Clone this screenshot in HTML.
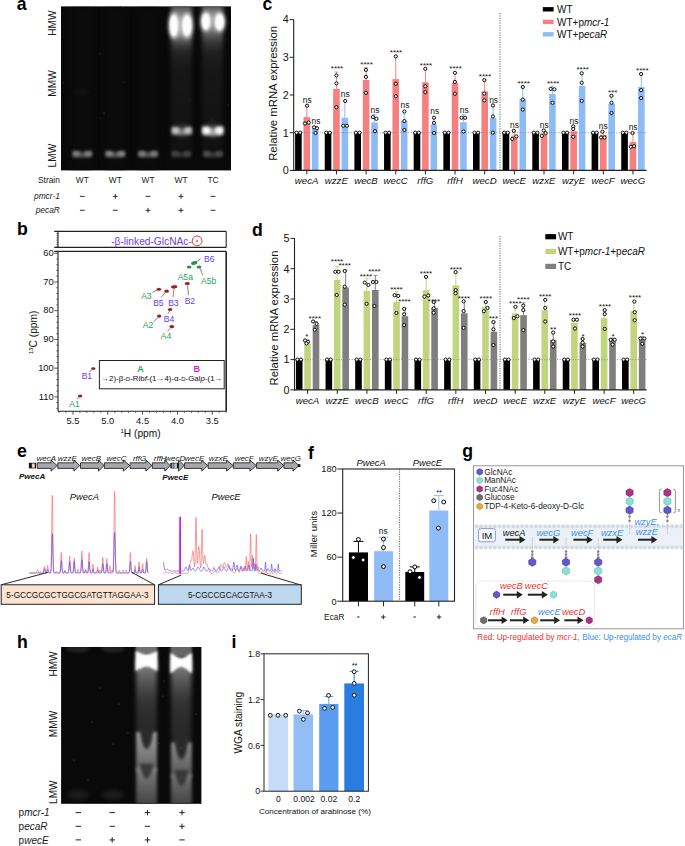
<!DOCTYPE html><html><head><meta charset="utf-8"><style>html,body{margin:0;padding:0;background:#fff;overflow:hidden}svg{display:block}text{font-family:"Liberation Sans",sans-serif}</style></head><body>
<svg width="685" height="846" viewBox="0 0 685 846">
<defs><filter id="b08" x="-50%" y="-50%" width="200%" height="200%" color-interpolation-filters="sRGB"><feGaussianBlur stdDeviation="0.8"/></filter><filter id="b12" x="-50%" y="-50%" width="200%" height="200%" color-interpolation-filters="sRGB"><feGaussianBlur stdDeviation="1.2"/></filter><filter id="b16" x="-50%" y="-50%" width="200%" height="200%" color-interpolation-filters="sRGB"><feGaussianBlur stdDeviation="1.6"/></filter><filter id="b22" x="-50%" y="-50%" width="200%" height="200%" color-interpolation-filters="sRGB"><feGaussianBlur stdDeviation="2.2"/></filter><filter id="b30" x="-50%" y="-50%" width="200%" height="200%" color-interpolation-filters="sRGB"><feGaussianBlur stdDeviation="3"/></filter></defs>
<rect width="685" height="846" fill="#fff"/>
<text x="16.8" y="9.6" font-size="17.7" font-weight="bold">a</text>
<text x="262.6" y="9.9" font-size="17.7" font-weight="bold">c</text>
<text x="17" y="235.2" font-size="17.7" font-weight="bold">b</text>
<text x="252" y="236" font-size="17.7" font-weight="bold">d</text>
<text x="16.9" y="456.7" font-size="17.7" font-weight="bold">e</text>
<text x="307.9" y="458.6" font-size="17.7" font-weight="bold">f</text>
<text x="462.3" y="457.2" font-size="17.7" font-weight="bold">g</text>
<text x="16.9" y="647.9" font-size="17.7" font-weight="bold">h</text>
<text x="231.6" y="647.9" font-size="17.7" font-weight="bold">i</text>
<clipPath id="clipA"><rect x="61" y="6.4" width="170" height="164.0"/></clipPath>
<rect x="61" y="6.4" width="170" height="164" fill="#090909"/>
<g clip-path="url(#clipA)">
<rect x="72" y="6.4" width="20" height="164" fill="#0b0b0b" filter="url(#b30)"/>
<rect x="105" y="6.4" width="20" height="164" fill="#0b0b0b" filter="url(#b30)"/>
<rect x="138" y="6.4" width="20" height="164" fill="#0b0b0b" filter="url(#b30)"/>
<linearGradient id="g1710_40" x1="0" y1="0" x2="0" y2="1"><stop offset="0" stop-color="#404040"/><stop offset="0.04" stop-color="#6a6a6a"/><stop offset="0.1" stop-color="#9a9a9a"/><stop offset="0.21" stop-color="#949494"/><stop offset="0.25" stop-color="#5a5a5a"/><stop offset="0.29" stop-color="#363636"/><stop offset="0.34" stop-color="#222"/><stop offset="0.45" stop-color="#171717"/><stop offset="1" stop-color="#121212"/></linearGradient>
<rect x="171" y="4" width="21" height="146" fill="url(#g1710_40)" filter="url(#b22)"/>
<linearGradient id="g2020_40" x1="0" y1="0" x2="0" y2="1"><stop offset="0" stop-color="#454545"/><stop offset="0.04" stop-color="#707070"/><stop offset="0.08" stop-color="#949494"/><stop offset="0.16" stop-color="#8a8a8a"/><stop offset="0.21" stop-color="#5a5a5a"/><stop offset="0.27" stop-color="#333"/><stop offset="0.33" stop-color="#202020"/><stop offset="0.45" stop-color="#171717"/><stop offset="1" stop-color="#121212"/></linearGradient>
<rect x="202" y="4" width="21" height="146" fill="url(#g2020_40)" filter="url(#b22)"/>
<ellipse cx="173.8" cy="25.5" rx="4.8" ry="12.5" fill="#fff" filter="url(#b22)"/>
<ellipse cx="173.8" cy="25.5" rx="3.6" ry="10" fill="#fff" filter="url(#b12)"/>
<ellipse cx="187" cy="25.5" rx="5.2" ry="12" fill="#fff" filter="url(#b22)"/>
<ellipse cx="187" cy="25.5" rx="3.9" ry="9.6" fill="#fff" filter="url(#b12)"/>
<ellipse cx="205.9" cy="21.5" rx="4.8" ry="9.5" fill="#fff" filter="url(#b22)"/>
<ellipse cx="205.9" cy="21.5" rx="3.6" ry="7.6" fill="#fff" filter="url(#b12)"/>
<ellipse cx="219.6" cy="22" rx="5.2" ry="9.5" fill="#fff" filter="url(#b22)"/>
<ellipse cx="219.6" cy="22" rx="3.9" ry="7.6" fill="#fff" filter="url(#b12)"/>
<ellipse cx="181.8" cy="130.5" rx="11" ry="6" fill="#3a3a3a" filter="url(#b22)"/>
<ellipse cx="212.8" cy="130.5" rx="11.5" ry="6.5" fill="#4a4a4a" filter="url(#b22)"/>
<path d="M171.8,126.5 Q176.8,126.5 181.8,129.3 Q186.8,126.5 191.8,126.5 L191.8,134.5 Q181.8,135.5 171.8,134.5 Z" fill="#808080" filter="url(#b16)"/>
<ellipse cx="175.8" cy="130.5" rx="3.5" ry="2.8" fill="#c8c8c8" filter="url(#b16)"/>
<ellipse cx="187.8" cy="130.5" rx="3.5" ry="2.8" fill="#c8c8c8" filter="url(#b16)"/>
<path d="M202.3,126 Q207.55,126 212.8,128.8 Q218.05,126 223.3,126 L223.3,135 Q212.8,136 202.3,135 Z" fill="#a8a8a8" filter="url(#b16)"/>
<ellipse cx="206.5" cy="130.5" rx="3.67" ry="3.15" fill="#ffffff" filter="url(#b16)"/>
<ellipse cx="219.1" cy="130.5" rx="3.67" ry="3.15" fill="#ffffff" filter="url(#b16)"/>
<path d="M72.5,150.6 Q77.4,150.6 82.3,152.2 Q87.2,150.6 92.1,150.6 L92.1,157 Q82.3,158 72.5,157 Z" fill="#555" filter="url(#b16)"/>
<ellipse cx="76.42" cy="153.8" rx="3.43" ry="2.24" fill="#858585" filter="url(#b16)"/>
<ellipse cx="88.18" cy="153.8" rx="3.43" ry="2.24" fill="#858585" filter="url(#b16)"/>
<path d="M105.5,150.6 Q110.4,150.6 115.3,152.2 Q120.2,150.6 125.1,150.6 L125.1,157 Q115.3,158 105.5,157 Z" fill="#585858" filter="url(#b16)"/>
<ellipse cx="109.42" cy="153.8" rx="3.43" ry="2.24" fill="#8a8a8a" filter="url(#b16)"/>
<ellipse cx="121.18" cy="153.8" rx="3.43" ry="2.24" fill="#8a8a8a" filter="url(#b16)"/>
<path d="M138.2,150.6 Q143.1,150.6 148,152.2 Q152.9,150.6 157.8,150.6 L157.8,157 Q148,158 138.2,157 Z" fill="#555" filter="url(#b16)"/>
<ellipse cx="142.12" cy="153.8" rx="3.43" ry="2.24" fill="#828282" filter="url(#b16)"/>
<ellipse cx="153.88" cy="153.8" rx="3.43" ry="2.24" fill="#828282" filter="url(#b16)"/>
<path d="M171.5,150.6 Q176.4,150.6 181.3,152.2 Q186.2,150.6 191.1,150.6 L191.1,157 Q181.3,158 171.5,157 Z" fill="#333" filter="url(#b16)"/>
<ellipse cx="175.42" cy="153.8" rx="3.43" ry="2.24" fill="#444" filter="url(#b16)"/>
<ellipse cx="187.18" cy="153.8" rx="3.43" ry="2.24" fill="#444" filter="url(#b16)"/>
<path d="M203.2,150.6 Q208.1,150.6 213,152.2 Q217.9,150.6 222.8,150.6 L222.8,157 Q213,158 203.2,157 Z" fill="#3a3a3a" filter="url(#b16)"/>
<ellipse cx="207.12" cy="153.8" rx="3.43" ry="2.24" fill="#4e4e4e" filter="url(#b16)"/>
<ellipse cx="218.88" cy="153.8" rx="3.43" ry="2.24" fill="#4e4e4e" filter="url(#b16)"/>
<ellipse cx="82" cy="92" rx="8" ry="3" fill="#141414" filter="url(#b22)"/>
<circle cx="63.5" cy="83" r="0.6" fill="#444"/>
<circle cx="123" cy="6.8" r="0.6" fill="#666"/>
<circle cx="100" cy="53.6" r="0.6" fill="#333"/>
<circle cx="124" cy="82" r="0.6" fill="#333"/>
<circle cx="100" cy="118" r="0.6" fill="#333"/>
<circle cx="104" cy="113" r="0.6" fill="#444"/>
<circle cx="228" cy="105" r="0.6" fill="#555"/>
<circle cx="212" cy="120" r="0.6" fill="#444"/>
<circle cx="183" cy="44" r="0.6" fill="#555"/>
<circle cx="190" cy="100" r="0.6" fill="#333"/>
</g>
<text transform="translate(55.9,23.2) rotate(-90)" text-anchor="middle" font-size="10.1" fill="#1a1a1a">HMW</text>
<text transform="translate(55.9,83.5) rotate(-90)" text-anchor="middle" font-size="10.1" fill="#1a1a1a">MMW</text>
<text transform="translate(55.9,155.6) rotate(-90)" text-anchor="middle" font-size="10.1" fill="#1a1a1a">LMW</text>
<text x="59.9" y="182.6" font-size="8.4" text-anchor="end" fill="#1a1a1a">Strain</text>
<text x="59.9" y="198.5" font-size="8.4" text-anchor="end" font-style="italic" fill="#1a1a1a">pmcr-1</text>
<text x="59.9" y="213.2" font-size="8.4" text-anchor="end" font-style="italic" fill="#1a1a1a">pecaR</text>
<text x="82.3" y="182.8" font-size="8.4" text-anchor="middle" fill="#1a1a1a">WT</text>
<text x="115.3" y="182.8" font-size="8.4" text-anchor="middle" fill="#1a1a1a">WT</text>
<text x="148" y="182.8" font-size="8.4" text-anchor="middle" fill="#1a1a1a">WT</text>
<text x="181" y="182.8" font-size="8.4" text-anchor="middle" fill="#1a1a1a">WT</text>
<text x="213" y="182.8" font-size="8.4" text-anchor="middle" fill="#1a1a1a">TC</text>
<line x1="79.9" y1="196.4" x2="84.7" y2="196.4" stroke="#1a1a1a" stroke-width="0.9"/>
<line x1="79.9" y1="210.3" x2="84.7" y2="210.3" stroke="#1a1a1a" stroke-width="0.9"/>
<line x1="112.9" y1="196.4" x2="117.7" y2="196.4" stroke="#1a1a1a" stroke-width="0.9"/>
<line x1="115.3" y1="194" x2="115.3" y2="198.8" stroke="#1a1a1a" stroke-width="0.9"/>
<line x1="112.9" y1="210.3" x2="117.7" y2="210.3" stroke="#1a1a1a" stroke-width="0.9"/>
<line x1="145.6" y1="196.4" x2="150.4" y2="196.4" stroke="#1a1a1a" stroke-width="0.9"/>
<line x1="145.6" y1="210.3" x2="150.4" y2="210.3" stroke="#1a1a1a" stroke-width="0.9"/>
<line x1="148" y1="207.9" x2="148" y2="212.7" stroke="#1a1a1a" stroke-width="0.9"/>
<line x1="178.6" y1="196.4" x2="183.4" y2="196.4" stroke="#1a1a1a" stroke-width="0.9"/>
<line x1="181" y1="194" x2="181" y2="198.8" stroke="#1a1a1a" stroke-width="0.9"/>
<line x1="178.6" y1="210.3" x2="183.4" y2="210.3" stroke="#1a1a1a" stroke-width="0.9"/>
<line x1="181" y1="207.9" x2="181" y2="212.7" stroke="#1a1a1a" stroke-width="0.9"/>
<line x1="210.6" y1="196.4" x2="215.4" y2="196.4" stroke="#1a1a1a" stroke-width="0.9"/>
<line x1="210.6" y1="210.3" x2="215.4" y2="210.3" stroke="#1a1a1a" stroke-width="0.9"/>
<rect x="295.1" y="132.7" width="6.6" height="37.7" fill="#000"/>
<line x1="306.8" y1="117.1" x2="306.8" y2="105.7" stroke="#f67f7f" stroke-width="1"/>
<line x1="305" y1="105.7" x2="308.6" y2="105.7" stroke="#f67f7f" stroke-width="0.9"/>
<rect x="303.5" y="117.1" width="6.6" height="53.3" fill="#f67f7f"/>
<line x1="315.2" y1="127.6" x2="315.2" y2="126.5" stroke="#8dbbf5" stroke-width="1"/>
<line x1="313.4" y1="126.5" x2="317" y2="126.5" stroke="#8dbbf5" stroke-width="0.9"/>
<rect x="311.9" y="127.6" width="6.6" height="42.8" fill="#8dbbf5"/>
<rect x="324.75" y="132.7" width="6.6" height="37.7" fill="#000"/>
<line x1="336.45" y1="88.9" x2="336.45" y2="72.1" stroke="#f67f7f" stroke-width="1"/>
<line x1="334.65" y1="72.1" x2="338.25" y2="72.1" stroke="#f67f7f" stroke-width="0.9"/>
<rect x="333.15" y="88.9" width="6.6" height="81.5" fill="#f67f7f"/>
<line x1="344.85" y1="117.7" x2="344.85" y2="101" stroke="#8dbbf5" stroke-width="1"/>
<line x1="343.05" y1="101" x2="346.65" y2="101" stroke="#8dbbf5" stroke-width="0.9"/>
<rect x="341.55" y="117.7" width="6.6" height="52.7" fill="#8dbbf5"/>
<rect x="354.4" y="132.7" width="6.6" height="37.7" fill="#000"/>
<line x1="366.1" y1="79.9" x2="366.1" y2="67.7" stroke="#f67f7f" stroke-width="1"/>
<line x1="364.3" y1="67.7" x2="367.9" y2="67.7" stroke="#f67f7f" stroke-width="0.9"/>
<rect x="362.8" y="79.9" width="6.6" height="90.5" fill="#f67f7f"/>
<line x1="374.5" y1="122.5" x2="374.5" y2="114.5" stroke="#8dbbf5" stroke-width="1"/>
<line x1="372.7" y1="114.5" x2="376.3" y2="114.5" stroke="#8dbbf5" stroke-width="0.9"/>
<rect x="371.2" y="122.5" width="6.6" height="47.9" fill="#8dbbf5"/>
<rect x="384.05" y="132.7" width="6.6" height="37.7" fill="#000"/>
<line x1="395.75" y1="79.1" x2="395.75" y2="56.4" stroke="#f67f7f" stroke-width="1"/>
<line x1="393.95" y1="56.4" x2="397.55" y2="56.4" stroke="#f67f7f" stroke-width="0.9"/>
<rect x="392.45" y="79.1" width="6.6" height="91.3" fill="#f67f7f"/>
<line x1="404.15" y1="121" x2="404.15" y2="111.5" stroke="#8dbbf5" stroke-width="1"/>
<line x1="402.35" y1="111.5" x2="405.95" y2="111.5" stroke="#8dbbf5" stroke-width="0.9"/>
<rect x="400.85" y="121" width="6.6" height="49.4" fill="#8dbbf5"/>
<rect x="413.7" y="132.7" width="6.6" height="37.7" fill="#000"/>
<line x1="425.4" y1="82.3" x2="425.4" y2="68.8" stroke="#f67f7f" stroke-width="1"/>
<line x1="423.6" y1="68.8" x2="427.2" y2="68.8" stroke="#f67f7f" stroke-width="0.9"/>
<rect x="422.1" y="82.3" width="6.6" height="88.1" fill="#f67f7f"/>
<line x1="433.8" y1="124.4" x2="433.8" y2="117.7" stroke="#8dbbf5" stroke-width="1"/>
<line x1="432" y1="117.7" x2="435.6" y2="117.7" stroke="#8dbbf5" stroke-width="0.9"/>
<rect x="430.5" y="124.4" width="6.6" height="46" fill="#8dbbf5"/>
<rect x="443.35" y="132.7" width="6.6" height="37.7" fill="#000"/>
<line x1="455.05" y1="82.8" x2="455.05" y2="72.8" stroke="#f67f7f" stroke-width="1"/>
<line x1="453.25" y1="72.8" x2="456.85" y2="72.8" stroke="#f67f7f" stroke-width="0.9"/>
<rect x="451.75" y="82.8" width="6.6" height="87.6" fill="#f67f7f"/>
<line x1="463.45" y1="122.2" x2="463.45" y2="114.5" stroke="#8dbbf5" stroke-width="1"/>
<line x1="461.65" y1="114.5" x2="465.25" y2="114.5" stroke="#8dbbf5" stroke-width="0.9"/>
<rect x="460.15" y="122.2" width="6.6" height="48.2" fill="#8dbbf5"/>
<rect x="473" y="132.7" width="6.6" height="37.7" fill="#000"/>
<line x1="484.7" y1="91.4" x2="484.7" y2="80.1" stroke="#f67f7f" stroke-width="1"/>
<line x1="482.9" y1="80.1" x2="486.5" y2="80.1" stroke="#f67f7f" stroke-width="0.9"/>
<rect x="481.4" y="91.4" width="6.6" height="79" fill="#f67f7f"/>
<line x1="493.1" y1="118.1" x2="493.1" y2="105.4" stroke="#8dbbf5" stroke-width="1"/>
<line x1="491.3" y1="105.4" x2="494.9" y2="105.4" stroke="#8dbbf5" stroke-width="0.9"/>
<rect x="489.8" y="118.1" width="6.6" height="52.3" fill="#8dbbf5"/>
<rect x="502.65" y="132.7" width="6.6" height="37.7" fill="#000"/>
<line x1="514.35" y1="135.6" x2="514.35" y2="130.8" stroke="#f67f7f" stroke-width="1"/>
<line x1="512.55" y1="130.8" x2="516.15" y2="130.8" stroke="#f67f7f" stroke-width="0.9"/>
<rect x="511.05" y="135.6" width="6.6" height="34.8" fill="#f67f7f"/>
<line x1="522.75" y1="98.8" x2="522.75" y2="87" stroke="#8dbbf5" stroke-width="1"/>
<line x1="520.95" y1="87" x2="524.55" y2="87" stroke="#8dbbf5" stroke-width="0.9"/>
<rect x="519.45" y="98.8" width="6.6" height="71.6" fill="#8dbbf5"/>
<rect x="532.3" y="132.7" width="6.6" height="37.7" fill="#000"/>
<line x1="544" y1="133.4" x2="544" y2="130.5" stroke="#f67f7f" stroke-width="1"/>
<line x1="542.2" y1="130.5" x2="545.8" y2="130.5" stroke="#f67f7f" stroke-width="0.9"/>
<rect x="540.7" y="133.4" width="6.6" height="37" fill="#f67f7f"/>
<line x1="552.4" y1="94" x2="552.4" y2="86" stroke="#8dbbf5" stroke-width="1"/>
<line x1="550.6" y1="86" x2="554.2" y2="86" stroke="#8dbbf5" stroke-width="0.9"/>
<rect x="549.1" y="94" width="6.6" height="76.4" fill="#8dbbf5"/>
<rect x="561.95" y="132.7" width="6.6" height="37.7" fill="#000"/>
<line x1="573.65" y1="131.2" x2="573.65" y2="126.4" stroke="#f67f7f" stroke-width="1"/>
<line x1="571.85" y1="126.4" x2="575.45" y2="126.4" stroke="#f67f7f" stroke-width="0.9"/>
<rect x="570.35" y="131.2" width="6.6" height="39.2" fill="#f67f7f"/>
<line x1="582.05" y1="86" x2="582.05" y2="73.3" stroke="#8dbbf5" stroke-width="1"/>
<line x1="580.25" y1="73.3" x2="583.85" y2="73.3" stroke="#8dbbf5" stroke-width="0.9"/>
<rect x="578.75" y="86" width="6.6" height="84.4" fill="#8dbbf5"/>
<rect x="591.6" y="132.7" width="6.6" height="37.7" fill="#000"/>
<line x1="603.3" y1="134.9" x2="603.3" y2="131.7" stroke="#f67f7f" stroke-width="1"/>
<line x1="601.5" y1="131.7" x2="605.1" y2="131.7" stroke="#f67f7f" stroke-width="0.9"/>
<rect x="600" y="134.9" width="6.6" height="35.5" fill="#f67f7f"/>
<line x1="611.7" y1="103.8" x2="611.7" y2="95.8" stroke="#8dbbf5" stroke-width="1"/>
<line x1="609.9" y1="95.8" x2="613.5" y2="95.8" stroke="#8dbbf5" stroke-width="0.9"/>
<rect x="608.4" y="103.8" width="6.6" height="66.6" fill="#8dbbf5"/>
<rect x="621.25" y="132.7" width="6.6" height="37.7" fill="#000"/>
<line x1="632.95" y1="141.9" x2="632.95" y2="133" stroke="#f67f7f" stroke-width="1"/>
<line x1="631.15" y1="133" x2="634.75" y2="133" stroke="#f67f7f" stroke-width="0.9"/>
<rect x="629.65" y="141.9" width="6.6" height="28.5" fill="#f67f7f"/>
<line x1="641.35" y1="87" x2="641.35" y2="74" stroke="#8dbbf5" stroke-width="1"/>
<line x1="639.55" y1="74" x2="643.15" y2="74" stroke="#8dbbf5" stroke-width="0.9"/>
<rect x="638.05" y="87" width="6.6" height="83.4" fill="#8dbbf5"/>
<line x1="293.7" y1="132.7" x2="646.6" y2="132.7" stroke="#8a8a8a" stroke-width="0.9" stroke-dasharray="1,1.6"/>
<rect x="295.1" y="132.7" width="6.6" height="1.5" fill="#000"/>
<rect x="324.75" y="132.7" width="6.6" height="1.5" fill="#000"/>
<rect x="354.4" y="132.7" width="6.6" height="1.5" fill="#000"/>
<rect x="384.05" y="132.7" width="6.6" height="1.5" fill="#000"/>
<rect x="413.7" y="132.7" width="6.6" height="1.5" fill="#000"/>
<rect x="443.35" y="132.7" width="6.6" height="1.5" fill="#000"/>
<rect x="473" y="132.7" width="6.6" height="1.5" fill="#000"/>
<rect x="502.65" y="132.7" width="6.6" height="1.5" fill="#000"/>
<rect x="532.3" y="132.7" width="6.6" height="1.5" fill="#000"/>
<rect x="561.95" y="132.7" width="6.6" height="1.5" fill="#000"/>
<rect x="591.6" y="132.7" width="6.6" height="1.5" fill="#000"/>
<rect x="621.25" y="132.7" width="6.6" height="1.5" fill="#000"/>
<circle cx="296.6" cy="132.7" r="1.6" fill="#fff" stroke="#000" stroke-width="0.95"/>
<circle cx="300.2" cy="132.7" r="1.6" fill="#fff" stroke="#000" stroke-width="0.95"/>
<circle cx="307.1" cy="105.7" r="1.6" fill="#fff" stroke="#000" stroke-width="0.95"/>
<circle cx="305" cy="123.5" r="1.6" fill="#fff" stroke="#000" stroke-width="0.95"/>
<circle cx="308.7" cy="122.6" r="1.6" fill="#fff" stroke="#000" stroke-width="0.95"/>
<text x="307.2" y="103.2" font-size="8.4" text-anchor="middle" fill="#111">ns</text>
<circle cx="314.1" cy="127.3" r="1.6" fill="#fff" stroke="#000" stroke-width="0.95"/>
<circle cx="317" cy="128.3" r="1.6" fill="#fff" stroke="#000" stroke-width="0.95"/>
<circle cx="315.5" cy="133" r="1.6" fill="#fff" stroke="#000" stroke-width="0.95"/>
<text x="316" y="123.6" font-size="8.4" text-anchor="middle" fill="#111">ns</text>
<circle cx="326.25" cy="132.7" r="1.6" fill="#fff" stroke="#000" stroke-width="0.95"/>
<circle cx="329.85" cy="132.7" r="1.6" fill="#fff" stroke="#000" stroke-width="0.95"/>
<circle cx="336.4" cy="75.5" r="1.6" fill="#fff" stroke="#000" stroke-width="0.95"/>
<circle cx="336.4" cy="83.4" r="1.6" fill="#fff" stroke="#000" stroke-width="0.95"/>
<circle cx="336.4" cy="107.2" r="1.6" fill="#fff" stroke="#000" stroke-width="0.95"/>
<text x="337" y="70.9" font-size="8" text-anchor="middle" fill="#111">****</text>
<circle cx="345.2" cy="101" r="1.6" fill="#fff" stroke="#000" stroke-width="0.95"/>
<circle cx="343.3" cy="125.8" r="1.6" fill="#fff" stroke="#000" stroke-width="0.95"/>
<circle cx="346.9" cy="125.8" r="1.6" fill="#fff" stroke="#000" stroke-width="0.95"/>
<text x="345.2" y="97.3" font-size="8.4" text-anchor="middle" fill="#111">ns</text>
<circle cx="355.9" cy="132.7" r="1.6" fill="#fff" stroke="#000" stroke-width="0.95"/>
<circle cx="359.5" cy="132.7" r="1.6" fill="#fff" stroke="#000" stroke-width="0.95"/>
<circle cx="365.9" cy="69.9" r="1.6" fill="#fff" stroke="#000" stroke-width="0.95"/>
<circle cx="365.9" cy="76.9" r="1.6" fill="#fff" stroke="#000" stroke-width="0.95"/>
<circle cx="365.9" cy="92.8" r="1.6" fill="#fff" stroke="#000" stroke-width="0.95"/>
<text x="366.6" y="66.5" font-size="8" text-anchor="middle" fill="#111">****</text>
<circle cx="372.9" cy="117.1" r="1.6" fill="#fff" stroke="#000" stroke-width="0.95"/>
<circle cx="376.4" cy="118.8" r="1.6" fill="#fff" stroke="#000" stroke-width="0.95"/>
<circle cx="375" cy="131.2" r="1.6" fill="#fff" stroke="#000" stroke-width="0.95"/>
<text x="375" y="113.1" font-size="8.4" text-anchor="middle" fill="#111">ns</text>
<circle cx="385.55" cy="132.7" r="1.6" fill="#fff" stroke="#000" stroke-width="0.95"/>
<circle cx="389.15" cy="132.7" r="1.6" fill="#fff" stroke="#000" stroke-width="0.95"/>
<circle cx="395.8" cy="56.4" r="1.6" fill="#fff" stroke="#000" stroke-width="0.95"/>
<circle cx="395.8" cy="83.8" r="1.6" fill="#fff" stroke="#000" stroke-width="0.95"/>
<circle cx="395.8" cy="96.2" r="1.6" fill="#fff" stroke="#000" stroke-width="0.95"/>
<text x="396" y="54.9" font-size="8" text-anchor="middle" fill="#111">****</text>
<circle cx="404.4" cy="111.5" r="1.6" fill="#fff" stroke="#000" stroke-width="0.95"/>
<circle cx="404.4" cy="121" r="1.6" fill="#fff" stroke="#000" stroke-width="0.95"/>
<circle cx="404.4" cy="130" r="1.6" fill="#fff" stroke="#000" stroke-width="0.95"/>
<text x="405" y="108.3" font-size="8.4" text-anchor="middle" fill="#111">ns</text>
<circle cx="415.2" cy="132.7" r="1.6" fill="#fff" stroke="#000" stroke-width="0.95"/>
<circle cx="418.8" cy="132.7" r="1.6" fill="#fff" stroke="#000" stroke-width="0.95"/>
<circle cx="425.3" cy="68.8" r="1.6" fill="#fff" stroke="#000" stroke-width="0.95"/>
<circle cx="425.3" cy="86.3" r="1.6" fill="#fff" stroke="#000" stroke-width="0.95"/>
<circle cx="425.3" cy="92.1" r="1.6" fill="#fff" stroke="#000" stroke-width="0.95"/>
<text x="426" y="68" font-size="8" text-anchor="middle" fill="#111">****</text>
<circle cx="434" cy="117.7" r="1.6" fill="#fff" stroke="#000" stroke-width="0.95"/>
<circle cx="434" cy="122.9" r="1.6" fill="#fff" stroke="#000" stroke-width="0.95"/>
<circle cx="434" cy="133" r="1.6" fill="#fff" stroke="#000" stroke-width="0.95"/>
<text x="434.7" y="114.1" font-size="8.4" text-anchor="middle" fill="#111">ns</text>
<circle cx="444.85" cy="132.7" r="1.6" fill="#fff" stroke="#000" stroke-width="0.95"/>
<circle cx="448.45" cy="132.7" r="1.6" fill="#fff" stroke="#000" stroke-width="0.95"/>
<circle cx="454.9" cy="72.8" r="1.6" fill="#fff" stroke="#000" stroke-width="0.95"/>
<circle cx="454.9" cy="81.9" r="1.6" fill="#fff" stroke="#000" stroke-width="0.95"/>
<circle cx="454.9" cy="93.7" r="1.6" fill="#fff" stroke="#000" stroke-width="0.95"/>
<text x="455.6" y="70.6" font-size="8" text-anchor="middle" fill="#111">****</text>
<circle cx="461.5" cy="117.8" r="1.6" fill="#fff" stroke="#000" stroke-width="0.95"/>
<circle cx="465.1" cy="117.8" r="1.6" fill="#fff" stroke="#000" stroke-width="0.95"/>
<circle cx="463.5" cy="131.5" r="1.6" fill="#fff" stroke="#000" stroke-width="0.95"/>
<text x="464.2" y="113.1" font-size="8.4" text-anchor="middle" fill="#111">ns</text>
<circle cx="474.5" cy="132.7" r="1.6" fill="#fff" stroke="#000" stroke-width="0.95"/>
<circle cx="478.1" cy="132.7" r="1.6" fill="#fff" stroke="#000" stroke-width="0.95"/>
<circle cx="484.3" cy="80.1" r="1.6" fill="#fff" stroke="#000" stroke-width="0.95"/>
<circle cx="484.3" cy="93.6" r="1.6" fill="#fff" stroke="#000" stroke-width="0.95"/>
<circle cx="484.3" cy="100.3" r="1.6" fill="#fff" stroke="#000" stroke-width="0.95"/>
<text x="485" y="78.9" font-size="8" text-anchor="middle" fill="#111">****</text>
<circle cx="492.9" cy="105.4" r="1.6" fill="#fff" stroke="#000" stroke-width="0.95"/>
<circle cx="492.9" cy="116.4" r="1.6" fill="#fff" stroke="#000" stroke-width="0.95"/>
<circle cx="492.9" cy="132.7" r="1.6" fill="#fff" stroke="#000" stroke-width="0.95"/>
<text x="493.6" y="102.5" font-size="8.4" text-anchor="middle" fill="#111">ns</text>
<circle cx="504.15" cy="132.7" r="1.6" fill="#fff" stroke="#000" stroke-width="0.95"/>
<circle cx="507.75" cy="132.7" r="1.6" fill="#fff" stroke="#000" stroke-width="0.95"/>
<circle cx="513.8" cy="130.8" r="1.6" fill="#fff" stroke="#000" stroke-width="0.95"/>
<circle cx="516.4" cy="136.4" r="1.6" fill="#fff" stroke="#000" stroke-width="0.95"/>
<circle cx="512.3" cy="139" r="1.6" fill="#fff" stroke="#000" stroke-width="0.95"/>
<text x="514.5" y="127.7" font-size="8.4" text-anchor="middle" fill="#111">ns</text>
<circle cx="522.8" cy="87" r="1.6" fill="#fff" stroke="#000" stroke-width="0.95"/>
<circle cx="522.8" cy="99.6" r="1.6" fill="#fff" stroke="#000" stroke-width="0.95"/>
<circle cx="522.8" cy="109.6" r="1.6" fill="#fff" stroke="#000" stroke-width="0.95"/>
<text x="523.7" y="86.2" font-size="8" text-anchor="middle" fill="#111">****</text>
<circle cx="533.8" cy="132.7" r="1.6" fill="#fff" stroke="#000" stroke-width="0.95"/>
<circle cx="537.4" cy="132.7" r="1.6" fill="#fff" stroke="#000" stroke-width="0.95"/>
<circle cx="543.7" cy="130.5" r="1.6" fill="#fff" stroke="#000" stroke-width="0.95"/>
<circle cx="545.6" cy="133.1" r="1.6" fill="#fff" stroke="#000" stroke-width="0.95"/>
<circle cx="541.8" cy="135.9" r="1.6" fill="#fff" stroke="#000" stroke-width="0.95"/>
<text x="544.2" y="128" font-size="8.4" text-anchor="middle" fill="#111">ns</text>
<circle cx="550.7" cy="88.9" r="1.6" fill="#fff" stroke="#000" stroke-width="0.95"/>
<circle cx="554.4" cy="89.3" r="1.6" fill="#fff" stroke="#000" stroke-width="0.95"/>
<circle cx="552.5" cy="102.8" r="1.6" fill="#fff" stroke="#000" stroke-width="0.95"/>
<text x="553.2" y="86.2" font-size="8" text-anchor="middle" fill="#111">****</text>
<circle cx="563.45" cy="132.7" r="1.6" fill="#fff" stroke="#000" stroke-width="0.95"/>
<circle cx="567.05" cy="132.7" r="1.6" fill="#fff" stroke="#000" stroke-width="0.95"/>
<circle cx="573.2" cy="126.4" r="1.6" fill="#fff" stroke="#000" stroke-width="0.95"/>
<circle cx="573.2" cy="129" r="1.6" fill="#fff" stroke="#000" stroke-width="0.95"/>
<circle cx="573.2" cy="136.8" r="1.6" fill="#fff" stroke="#000" stroke-width="0.95"/>
<text x="574" y="124.4" font-size="8.4" text-anchor="middle" fill="#111">ns</text>
<circle cx="581.7" cy="73.3" r="1.6" fill="#fff" stroke="#000" stroke-width="0.95"/>
<circle cx="581.7" cy="82.8" r="1.6" fill="#fff" stroke="#000" stroke-width="0.95"/>
<circle cx="581.7" cy="100.9" r="1.6" fill="#fff" stroke="#000" stroke-width="0.95"/>
<text x="582.7" y="72.4" font-size="8" text-anchor="middle" fill="#111">****</text>
<circle cx="593.1" cy="132.7" r="1.6" fill="#fff" stroke="#000" stroke-width="0.95"/>
<circle cx="596.7" cy="132.7" r="1.6" fill="#fff" stroke="#000" stroke-width="0.95"/>
<circle cx="602.4" cy="131.7" r="1.6" fill="#fff" stroke="#000" stroke-width="0.95"/>
<circle cx="601" cy="137.5" r="1.6" fill="#fff" stroke="#000" stroke-width="0.95"/>
<circle cx="604.6" cy="137.5" r="1.6" fill="#fff" stroke="#000" stroke-width="0.95"/>
<text x="603.2" y="128.7" font-size="8.4" text-anchor="middle" fill="#111">ns</text>
<circle cx="611.5" cy="95.8" r="1.6" fill="#fff" stroke="#000" stroke-width="0.95"/>
<circle cx="611.5" cy="102.8" r="1.6" fill="#fff" stroke="#000" stroke-width="0.95"/>
<circle cx="611.5" cy="113" r="1.6" fill="#fff" stroke="#000" stroke-width="0.95"/>
<text x="612.7" y="95" font-size="8" text-anchor="middle" fill="#111">***</text>
<circle cx="622.75" cy="132.7" r="1.6" fill="#fff" stroke="#000" stroke-width="0.95"/>
<circle cx="626.35" cy="132.7" r="1.6" fill="#fff" stroke="#000" stroke-width="0.95"/>
<circle cx="632.5" cy="133" r="1.6" fill="#fff" stroke="#000" stroke-width="0.95"/>
<circle cx="630.8" cy="146.8" r="1.6" fill="#fff" stroke="#000" stroke-width="0.95"/>
<circle cx="634.1" cy="146.2" r="1.6" fill="#fff" stroke="#000" stroke-width="0.95"/>
<text x="633.1" y="129.7" font-size="8.4" text-anchor="middle" fill="#111">ns</text>
<circle cx="641.1" cy="74" r="1.6" fill="#fff" stroke="#000" stroke-width="0.95"/>
<circle cx="641.1" cy="90.1" r="1.6" fill="#fff" stroke="#000" stroke-width="0.95"/>
<circle cx="641.1" cy="98" r="1.6" fill="#fff" stroke="#000" stroke-width="0.95"/>
<text x="642.3" y="73.4" font-size="8" text-anchor="middle" fill="#111">****</text>
<line x1="500" y1="13" x2="500" y2="170.4" stroke="#555" stroke-width="0.9" stroke-dasharray="1.2,1.2"/>
<line x1="293.7" y1="19.2" x2="293.7" y2="170.9" stroke="#222" stroke-width="1.1"/>
<line x1="293.2" y1="170.4" x2="646.6" y2="170.4" stroke="#222" stroke-width="1.1"/>
<line x1="289.7" y1="170.4" x2="293.7" y2="170.4" stroke="#222" stroke-width="1"/>
<text x="288.7" y="174.2" font-size="10.8" text-anchor="end" fill="#111">0</text>
<line x1="289.7" y1="132.7" x2="293.7" y2="132.7" stroke="#222" stroke-width="1"/>
<text x="288.7" y="136.5" font-size="10.8" text-anchor="end" fill="#111">1</text>
<line x1="289.7" y1="95" x2="293.7" y2="95" stroke="#222" stroke-width="1"/>
<text x="288.7" y="98.8" font-size="10.8" text-anchor="end" fill="#111">2</text>
<line x1="289.7" y1="57.3" x2="293.7" y2="57.3" stroke="#222" stroke-width="1"/>
<text x="288.7" y="61.1" font-size="10.8" text-anchor="end" fill="#111">3</text>
<line x1="289.7" y1="19.6" x2="293.7" y2="19.6" stroke="#222" stroke-width="1"/>
<text x="288.7" y="23.4" font-size="10.8" text-anchor="end" fill="#111">4</text>
<line x1="306.8" y1="170.4" x2="306.8" y2="174.4" stroke="#222" stroke-width="1"/>
<text x="306.7" y="184.2" font-size="9.7" text-anchor="middle" font-style="italic" fill="#111">wecA</text>
<line x1="336.45" y1="170.4" x2="336.45" y2="174.4" stroke="#222" stroke-width="1"/>
<text x="336.35" y="184.2" font-size="9.7" text-anchor="middle" font-style="italic" fill="#111">wzzE</text>
<line x1="366.1" y1="170.4" x2="366.1" y2="174.4" stroke="#222" stroke-width="1"/>
<text x="366" y="184.2" font-size="9.7" text-anchor="middle" font-style="italic" fill="#111">wecB</text>
<line x1="395.75" y1="170.4" x2="395.75" y2="174.4" stroke="#222" stroke-width="1"/>
<text x="395.65" y="184.2" font-size="9.7" text-anchor="middle" font-style="italic" fill="#111">wecC</text>
<line x1="425.4" y1="170.4" x2="425.4" y2="174.4" stroke="#222" stroke-width="1"/>
<text x="425.3" y="184.2" font-size="9.7" text-anchor="middle" font-style="italic" fill="#111">rffG</text>
<line x1="455.05" y1="170.4" x2="455.05" y2="174.4" stroke="#222" stroke-width="1"/>
<text x="454.95" y="184.2" font-size="9.7" text-anchor="middle" font-style="italic" fill="#111">rffH</text>
<line x1="484.7" y1="170.4" x2="484.7" y2="174.4" stroke="#222" stroke-width="1"/>
<text x="484.6" y="184.2" font-size="9.7" text-anchor="middle" font-style="italic" fill="#111">wecD</text>
<line x1="514.35" y1="170.4" x2="514.35" y2="174.4" stroke="#222" stroke-width="1"/>
<text x="514.25" y="184.2" font-size="9.7" text-anchor="middle" font-style="italic" fill="#111">wecE</text>
<line x1="544" y1="170.4" x2="544" y2="174.4" stroke="#222" stroke-width="1"/>
<text x="543.9" y="184.2" font-size="9.7" text-anchor="middle" font-style="italic" fill="#111">wzxE</text>
<line x1="573.65" y1="170.4" x2="573.65" y2="174.4" stroke="#222" stroke-width="1"/>
<text x="573.55" y="184.2" font-size="9.7" text-anchor="middle" font-style="italic" fill="#111">wzyE</text>
<line x1="603.3" y1="170.4" x2="603.3" y2="174.4" stroke="#222" stroke-width="1"/>
<text x="603.2" y="184.2" font-size="9.7" text-anchor="middle" font-style="italic" fill="#111">wecF</text>
<line x1="632.95" y1="170.4" x2="632.95" y2="174.4" stroke="#222" stroke-width="1"/>
<text x="632.85" y="184.2" font-size="9.7" text-anchor="middle" font-style="italic" fill="#111">wecG</text>
<text transform="translate(277.2,93.4) rotate(-90)" text-anchor="middle" font-size="11.35" fill="#111">Relative mRNA expression</text>
<rect x="542.8" y="7.1" width="10.8" height="4.4" fill="#000"/>
<text x="557" y="13.3" font-size="10" fill="#111">WT</text>
<rect x="542.8" y="19.7" width="10.8" height="4.4" fill="#f67f7f"/>
<text x="557" y="25.9" font-size="10" fill="#111">WT+p<tspan font-style="italic">mcr-1</tspan></text>
<rect x="542.8" y="32.1" width="10.8" height="4.4" fill="#8dbbf5"/>
<text x="557" y="38.3" font-size="10" fill="#111">WT+p<tspan font-style="italic">ecaR</tspan></text>
<rect x="295.9" y="359.6" width="6.6" height="30.3" fill="#000"/>
<line x1="307.6" y1="343.4" x2="307.6" y2="339.5" stroke="#c1d57e" stroke-width="1"/>
<line x1="305.8" y1="339.5" x2="309.4" y2="339.5" stroke="#c1d57e" stroke-width="0.9"/>
<rect x="304.3" y="343.4" width="6.6" height="46.5" fill="#c1d57e"/>
<line x1="316" y1="325.1" x2="316" y2="321.5" stroke="#7f7f7f" stroke-width="1"/>
<line x1="314.2" y1="321.5" x2="317.8" y2="321.5" stroke="#7f7f7f" stroke-width="0.9"/>
<rect x="312.7" y="325.1" width="6.6" height="64.8" fill="#7f7f7f"/>
<rect x="325.55" y="359.6" width="6.6" height="30.3" fill="#000"/>
<line x1="337.25" y1="279.9" x2="337.25" y2="266.6" stroke="#c1d57e" stroke-width="1"/>
<line x1="335.45" y1="266.6" x2="339.05" y2="266.6" stroke="#c1d57e" stroke-width="0.9"/>
<rect x="333.95" y="279.9" width="6.6" height="110" fill="#c1d57e"/>
<line x1="345.65" y1="287.4" x2="345.65" y2="269.9" stroke="#7f7f7f" stroke-width="1"/>
<line x1="343.85" y1="269.9" x2="347.45" y2="269.9" stroke="#7f7f7f" stroke-width="0.9"/>
<rect x="342.35" y="287.4" width="6.6" height="102.5" fill="#7f7f7f"/>
<rect x="355.2" y="359.6" width="6.6" height="30.3" fill="#000"/>
<line x1="366.9" y1="290.7" x2="366.9" y2="278.4" stroke="#c1d57e" stroke-width="1"/>
<line x1="365.1" y1="278.4" x2="368.7" y2="278.4" stroke="#c1d57e" stroke-width="0.9"/>
<rect x="363.6" y="290.7" width="6.6" height="99.2" fill="#c1d57e"/>
<line x1="375.3" y1="289.9" x2="375.3" y2="275.5" stroke="#7f7f7f" stroke-width="1"/>
<line x1="373.5" y1="275.5" x2="377.1" y2="275.5" stroke="#7f7f7f" stroke-width="0.9"/>
<rect x="372" y="289.9" width="6.6" height="100" fill="#7f7f7f"/>
<rect x="384.85" y="359.6" width="6.6" height="30.3" fill="#000"/>
<line x1="396.55" y1="302" x2="396.55" y2="291.4" stroke="#c1d57e" stroke-width="1"/>
<line x1="394.75" y1="291.4" x2="398.35" y2="291.4" stroke="#c1d57e" stroke-width="0.9"/>
<rect x="393.25" y="302" width="6.6" height="87.9" fill="#c1d57e"/>
<line x1="404.95" y1="316.2" x2="404.95" y2="308.6" stroke="#7f7f7f" stroke-width="1"/>
<line x1="403.15" y1="308.6" x2="406.75" y2="308.6" stroke="#7f7f7f" stroke-width="0.9"/>
<rect x="401.65" y="316.2" width="6.6" height="73.7" fill="#7f7f7f"/>
<rect x="414.5" y="359.6" width="6.6" height="30.3" fill="#000"/>
<line x1="426.2" y1="290.1" x2="426.2" y2="276.9" stroke="#c1d57e" stroke-width="1"/>
<line x1="424.4" y1="276.9" x2="428" y2="276.9" stroke="#c1d57e" stroke-width="0.9"/>
<rect x="422.9" y="290.1" width="6.6" height="99.8" fill="#c1d57e"/>
<line x1="434.6" y1="307.9" x2="434.6" y2="302" stroke="#7f7f7f" stroke-width="1"/>
<line x1="432.8" y1="302" x2="436.4" y2="302" stroke="#7f7f7f" stroke-width="0.9"/>
<rect x="431.3" y="307.9" width="6.6" height="82" fill="#7f7f7f"/>
<rect x="444.15" y="359.6" width="6.6" height="30.3" fill="#000"/>
<line x1="455.85" y1="285.3" x2="455.85" y2="272.1" stroke="#c1d57e" stroke-width="1"/>
<line x1="454.05" y1="272.1" x2="457.65" y2="272.1" stroke="#c1d57e" stroke-width="0.9"/>
<rect x="452.55" y="285.3" width="6.6" height="104.6" fill="#c1d57e"/>
<line x1="464.25" y1="313.3" x2="464.25" y2="301.3" stroke="#7f7f7f" stroke-width="1"/>
<line x1="462.45" y1="301.3" x2="466.05" y2="301.3" stroke="#7f7f7f" stroke-width="0.9"/>
<rect x="460.95" y="313.3" width="6.6" height="76.6" fill="#7f7f7f"/>
<rect x="473.8" y="359.6" width="6.6" height="30.3" fill="#000"/>
<line x1="485.5" y1="306.9" x2="485.5" y2="302" stroke="#c1d57e" stroke-width="1"/>
<line x1="483.7" y1="302" x2="487.3" y2="302" stroke="#c1d57e" stroke-width="0.9"/>
<rect x="482.2" y="306.9" width="6.6" height="83" fill="#c1d57e"/>
<line x1="493.9" y1="331.7" x2="493.9" y2="322" stroke="#7f7f7f" stroke-width="1"/>
<line x1="492.1" y1="322" x2="495.7" y2="322" stroke="#7f7f7f" stroke-width="0.9"/>
<rect x="490.6" y="331.7" width="6.6" height="58.2" fill="#7f7f7f"/>
<rect x="503.45" y="359.6" width="6.6" height="30.3" fill="#000"/>
<line x1="515.15" y1="313.4" x2="515.15" y2="306.9" stroke="#c1d57e" stroke-width="1"/>
<line x1="513.35" y1="306.9" x2="516.95" y2="306.9" stroke="#c1d57e" stroke-width="0.9"/>
<rect x="511.85" y="313.4" width="6.6" height="76.5" fill="#c1d57e"/>
<line x1="523.55" y1="315.2" x2="523.55" y2="302.8" stroke="#7f7f7f" stroke-width="1"/>
<line x1="521.75" y1="302.8" x2="525.35" y2="302.8" stroke="#7f7f7f" stroke-width="0.9"/>
<rect x="520.25" y="315.2" width="6.6" height="74.7" fill="#7f7f7f"/>
<rect x="533.1" y="359.6" width="6.6" height="30.3" fill="#000"/>
<line x1="544.8" y1="310.1" x2="544.8" y2="299.9" stroke="#c1d57e" stroke-width="1"/>
<line x1="543" y1="299.9" x2="546.6" y2="299.9" stroke="#c1d57e" stroke-width="0.9"/>
<rect x="541.5" y="310.1" width="6.6" height="79.8" fill="#c1d57e"/>
<line x1="553.2" y1="339.8" x2="553.2" y2="332.6" stroke="#7f7f7f" stroke-width="1"/>
<line x1="551.4" y1="332.6" x2="555" y2="332.6" stroke="#7f7f7f" stroke-width="0.9"/>
<rect x="549.9" y="339.8" width="6.6" height="50.1" fill="#7f7f7f"/>
<rect x="562.75" y="359.6" width="6.6" height="30.3" fill="#000"/>
<line x1="574.45" y1="322.9" x2="574.45" y2="319.7" stroke="#c1d57e" stroke-width="1"/>
<line x1="572.65" y1="319.7" x2="576.25" y2="319.7" stroke="#c1d57e" stroke-width="0.9"/>
<rect x="571.15" y="322.9" width="6.6" height="67" fill="#c1d57e"/>
<line x1="582.85" y1="343" x2="582.85" y2="338.2" stroke="#7f7f7f" stroke-width="1"/>
<line x1="581.05" y1="338.2" x2="584.65" y2="338.2" stroke="#7f7f7f" stroke-width="0.9"/>
<rect x="579.55" y="343" width="6.6" height="46.9" fill="#7f7f7f"/>
<rect x="592.4" y="359.6" width="6.6" height="30.3" fill="#000"/>
<line x1="604.1" y1="318.1" x2="604.1" y2="310.1" stroke="#c1d57e" stroke-width="1"/>
<line x1="602.3" y1="310.1" x2="605.9" y2="310.1" stroke="#c1d57e" stroke-width="0.9"/>
<rect x="600.8" y="318.1" width="6.6" height="71.8" fill="#c1d57e"/>
<line x1="612.5" y1="339" x2="612.5" y2="338.2" stroke="#7f7f7f" stroke-width="1"/>
<line x1="610.7" y1="338.2" x2="614.3" y2="338.2" stroke="#7f7f7f" stroke-width="0.9"/>
<rect x="609.2" y="339" width="6.6" height="50.9" fill="#7f7f7f"/>
<rect x="622.05" y="359.6" width="6.6" height="30.3" fill="#000"/>
<line x1="633.75" y1="311.2" x2="633.75" y2="301.6" stroke="#c1d57e" stroke-width="1"/>
<line x1="631.95" y1="301.6" x2="635.55" y2="301.6" stroke="#c1d57e" stroke-width="0.9"/>
<rect x="630.45" y="311.2" width="6.6" height="78.7" fill="#c1d57e"/>
<line x1="642.15" y1="337.9" x2="642.15" y2="336.8" stroke="#7f7f7f" stroke-width="1"/>
<line x1="640.35" y1="336.8" x2="643.95" y2="336.8" stroke="#7f7f7f" stroke-width="0.9"/>
<rect x="638.85" y="337.9" width="6.6" height="52" fill="#7f7f7f"/>
<line x1="294.5" y1="359.6" x2="646.6" y2="359.6" stroke="#8a8a8a" stroke-width="0.9" stroke-dasharray="1,1.6"/>
<rect x="295.9" y="359.6" width="6.6" height="1.5" fill="#000"/>
<rect x="325.55" y="359.6" width="6.6" height="1.5" fill="#000"/>
<rect x="355.2" y="359.6" width="6.6" height="1.5" fill="#000"/>
<rect x="384.85" y="359.6" width="6.6" height="1.5" fill="#000"/>
<rect x="414.5" y="359.6" width="6.6" height="1.5" fill="#000"/>
<rect x="444.15" y="359.6" width="6.6" height="1.5" fill="#000"/>
<rect x="473.8" y="359.6" width="6.6" height="1.5" fill="#000"/>
<rect x="503.45" y="359.6" width="6.6" height="1.5" fill="#000"/>
<rect x="533.1" y="359.6" width="6.6" height="1.5" fill="#000"/>
<rect x="562.75" y="359.6" width="6.6" height="1.5" fill="#000"/>
<rect x="592.4" y="359.6" width="6.6" height="1.5" fill="#000"/>
<rect x="622.05" y="359.6" width="6.6" height="1.5" fill="#000"/>
<circle cx="297.4" cy="359.6" r="1.6" fill="#fff" stroke="#000" stroke-width="0.95"/>
<circle cx="301" cy="359.6" r="1.6" fill="#fff" stroke="#000" stroke-width="0.95"/>
<circle cx="305" cy="340.5" r="1.6" fill="#fff" stroke="#000" stroke-width="0.95"/>
<circle cx="308" cy="341.7" r="1.6" fill="#fff" stroke="#000" stroke-width="0.95"/>
<circle cx="306.4" cy="343.4" r="1.6" fill="#fff" stroke="#000" stroke-width="0.95"/>
<text x="306.8" y="338.8" font-size="8" text-anchor="middle" fill="#111">*</text>
<circle cx="313.1" cy="321.5" r="1.6" fill="#fff" stroke="#000" stroke-width="0.95"/>
<circle cx="316.6" cy="323.9" r="1.6" fill="#fff" stroke="#000" stroke-width="0.95"/>
<circle cx="314.8" cy="329.8" r="1.6" fill="#fff" stroke="#000" stroke-width="0.95"/>
<text x="314.8" y="320.5" font-size="8" text-anchor="middle" fill="#111">****</text>
<circle cx="327.05" cy="359.6" r="1.6" fill="#fff" stroke="#000" stroke-width="0.95"/>
<circle cx="330.65" cy="359.6" r="1.6" fill="#fff" stroke="#000" stroke-width="0.95"/>
<circle cx="335.3" cy="271.8" r="1.6" fill="#fff" stroke="#000" stroke-width="0.95"/>
<circle cx="338.6" cy="271.8" r="1.6" fill="#fff" stroke="#000" stroke-width="0.95"/>
<circle cx="336.7" cy="295" r="1.6" fill="#fff" stroke="#000" stroke-width="0.95"/>
<text x="337" y="263.6" font-size="8" text-anchor="middle" fill="#111">****</text>
<circle cx="344.7" cy="271" r="1.6" fill="#fff" stroke="#000" stroke-width="0.95"/>
<circle cx="344.7" cy="286.7" r="1.6" fill="#fff" stroke="#000" stroke-width="0.95"/>
<circle cx="344.7" cy="304.7" r="1.6" fill="#fff" stroke="#000" stroke-width="0.95"/>
<text x="344.7" y="268.4" font-size="8" text-anchor="middle" fill="#111">****</text>
<circle cx="356.7" cy="359.6" r="1.6" fill="#fff" stroke="#000" stroke-width="0.95"/>
<circle cx="360.3" cy="359.6" r="1.6" fill="#fff" stroke="#000" stroke-width="0.95"/>
<circle cx="364.7" cy="282.6" r="1.6" fill="#fff" stroke="#000" stroke-width="0.95"/>
<circle cx="368.4" cy="285" r="1.6" fill="#fff" stroke="#000" stroke-width="0.95"/>
<circle cx="366.6" cy="303.8" r="1.6" fill="#fff" stroke="#000" stroke-width="0.95"/>
<text x="365.9" y="278.6" font-size="8" text-anchor="middle" fill="#111">****</text>
<circle cx="372.9" cy="282" r="1.6" fill="#fff" stroke="#000" stroke-width="0.95"/>
<circle cx="376.4" cy="282" r="1.6" fill="#fff" stroke="#000" stroke-width="0.95"/>
<circle cx="374.4" cy="306" r="1.6" fill="#fff" stroke="#000" stroke-width="0.95"/>
<text x="374.4" y="273.5" font-size="8" text-anchor="middle" fill="#111">****</text>
<circle cx="386.35" cy="359.6" r="1.6" fill="#fff" stroke="#000" stroke-width="0.95"/>
<circle cx="389.95" cy="359.6" r="1.6" fill="#fff" stroke="#000" stroke-width="0.95"/>
<circle cx="394.6" cy="295.2" r="1.6" fill="#fff" stroke="#000" stroke-width="0.95"/>
<circle cx="398.2" cy="295.9" r="1.6" fill="#fff" stroke="#000" stroke-width="0.95"/>
<circle cx="396.4" cy="313" r="1.6" fill="#fff" stroke="#000" stroke-width="0.95"/>
<text x="396.4" y="292.4" font-size="8" text-anchor="middle" fill="#111">****</text>
<circle cx="404.1" cy="308.9" r="1.6" fill="#fff" stroke="#000" stroke-width="0.95"/>
<circle cx="404.1" cy="314.2" r="1.6" fill="#fff" stroke="#000" stroke-width="0.95"/>
<circle cx="404.1" cy="325.1" r="1.6" fill="#fff" stroke="#000" stroke-width="0.95"/>
<text x="404.5" y="304" font-size="8" text-anchor="middle" fill="#111">****</text>
<circle cx="416" cy="359.6" r="1.6" fill="#fff" stroke="#000" stroke-width="0.95"/>
<circle cx="419.6" cy="359.6" r="1.6" fill="#fff" stroke="#000" stroke-width="0.95"/>
<circle cx="426" cy="276.9" r="1.6" fill="#fff" stroke="#000" stroke-width="0.95"/>
<circle cx="424.5" cy="296.6" r="1.6" fill="#fff" stroke="#000" stroke-width="0.95"/>
<circle cx="428.2" cy="295.5" r="1.6" fill="#fff" stroke="#000" stroke-width="0.95"/>
<text x="426" y="276" font-size="8" text-anchor="middle" fill="#111">****</text>
<circle cx="433.7" cy="302" r="1.6" fill="#fff" stroke="#000" stroke-width="0.95"/>
<circle cx="433.7" cy="308.3" r="1.6" fill="#fff" stroke="#000" stroke-width="0.95"/>
<circle cx="433.7" cy="312.7" r="1.6" fill="#fff" stroke="#000" stroke-width="0.95"/>
<text x="434" y="303.8" font-size="8" text-anchor="middle" fill="#111">****</text>
<circle cx="445.65" cy="359.6" r="1.6" fill="#fff" stroke="#000" stroke-width="0.95"/>
<circle cx="449.25" cy="359.6" r="1.6" fill="#fff" stroke="#000" stroke-width="0.95"/>
<circle cx="455.6" cy="272.1" r="1.6" fill="#fff" stroke="#000" stroke-width="0.95"/>
<circle cx="455.6" cy="290.1" r="1.6" fill="#fff" stroke="#000" stroke-width="0.95"/>
<circle cx="455.6" cy="293.3" r="1.6" fill="#fff" stroke="#000" stroke-width="0.95"/>
<text x="455.9" y="271.6" font-size="8" text-anchor="middle" fill="#111">****</text>
<circle cx="463.6" cy="301.3" r="1.6" fill="#fff" stroke="#000" stroke-width="0.95"/>
<circle cx="463.6" cy="311.1" r="1.6" fill="#fff" stroke="#000" stroke-width="0.95"/>
<circle cx="463.6" cy="327.9" r="1.6" fill="#fff" stroke="#000" stroke-width="0.95"/>
<text x="463.9" y="300.8" font-size="8" text-anchor="middle" fill="#111">****</text>
<circle cx="475.3" cy="359.6" r="1.6" fill="#fff" stroke="#000" stroke-width="0.95"/>
<circle cx="478.9" cy="359.6" r="1.6" fill="#fff" stroke="#000" stroke-width="0.95"/>
<circle cx="485.8" cy="302" r="1.6" fill="#fff" stroke="#000" stroke-width="0.95"/>
<circle cx="487.5" cy="307.9" r="1.6" fill="#fff" stroke="#000" stroke-width="0.95"/>
<circle cx="483.9" cy="311.2" r="1.6" fill="#fff" stroke="#000" stroke-width="0.95"/>
<text x="485.8" y="300.8" font-size="8" text-anchor="middle" fill="#111">****</text>
<circle cx="493.4" cy="322" r="1.6" fill="#fff" stroke="#000" stroke-width="0.95"/>
<circle cx="493.4" cy="329.3" r="1.6" fill="#fff" stroke="#000" stroke-width="0.95"/>
<circle cx="493.4" cy="345" r="1.6" fill="#fff" stroke="#000" stroke-width="0.95"/>
<text x="493.4" y="321.3" font-size="8" text-anchor="middle" fill="#111">***</text>
<circle cx="504.95" cy="359.6" r="1.6" fill="#fff" stroke="#000" stroke-width="0.95"/>
<circle cx="508.55" cy="359.6" r="1.6" fill="#fff" stroke="#000" stroke-width="0.95"/>
<circle cx="515.5" cy="306.9" r="1.6" fill="#fff" stroke="#000" stroke-width="0.95"/>
<circle cx="513.8" cy="318.1" r="1.6" fill="#fff" stroke="#000" stroke-width="0.95"/>
<circle cx="517.4" cy="316.2" r="1.6" fill="#fff" stroke="#000" stroke-width="0.95"/>
<text x="515.3" y="305.9" font-size="8" text-anchor="middle" fill="#111">****</text>
<circle cx="523.3" cy="305.7" r="1.6" fill="#fff" stroke="#000" stroke-width="0.95"/>
<circle cx="523.3" cy="310.1" r="1.6" fill="#fff" stroke="#000" stroke-width="0.95"/>
<circle cx="523.3" cy="330.1" r="1.6" fill="#fff" stroke="#000" stroke-width="0.95"/>
<text x="523.3" y="301.6" font-size="8" text-anchor="middle" fill="#111">****</text>
<circle cx="534.6" cy="359.6" r="1.6" fill="#fff" stroke="#000" stroke-width="0.95"/>
<circle cx="538.2" cy="359.6" r="1.6" fill="#fff" stroke="#000" stroke-width="0.95"/>
<circle cx="545.2" cy="299.9" r="1.6" fill="#fff" stroke="#000" stroke-width="0.95"/>
<circle cx="545.2" cy="307.9" r="1.6" fill="#fff" stroke="#000" stroke-width="0.95"/>
<circle cx="545.2" cy="321.5" r="1.6" fill="#fff" stroke="#000" stroke-width="0.95"/>
<text x="545.2" y="298.6" font-size="8" text-anchor="middle" fill="#111">****</text>
<circle cx="553.2" cy="332.6" r="1.6" fill="#fff" stroke="#000" stroke-width="0.95"/>
<circle cx="553.2" cy="341.4" r="1.6" fill="#fff" stroke="#000" stroke-width="0.95"/>
<circle cx="553.2" cy="346.5" r="1.6" fill="#fff" stroke="#000" stroke-width="0.95"/>
<text x="553.2" y="331.6" font-size="8" text-anchor="middle" fill="#111">**</text>
<circle cx="564.25" cy="359.6" r="1.6" fill="#fff" stroke="#000" stroke-width="0.95"/>
<circle cx="567.85" cy="359.6" r="1.6" fill="#fff" stroke="#000" stroke-width="0.95"/>
<circle cx="573.4" cy="319.7" r="1.6" fill="#fff" stroke="#000" stroke-width="0.95"/>
<circle cx="576.9" cy="319.7" r="1.6" fill="#fff" stroke="#000" stroke-width="0.95"/>
<circle cx="575" cy="328.5" r="1.6" fill="#fff" stroke="#000" stroke-width="0.95"/>
<text x="575" y="318.3" font-size="8" text-anchor="middle" fill="#111">****</text>
<circle cx="582.6" cy="339" r="1.6" fill="#fff" stroke="#000" stroke-width="0.95"/>
<circle cx="582.6" cy="342.7" r="1.6" fill="#fff" stroke="#000" stroke-width="0.95"/>
<circle cx="582.6" cy="346.5" r="1.6" fill="#fff" stroke="#000" stroke-width="0.95"/>
<text x="583" y="338.5" font-size="8" text-anchor="middle" fill="#111">*</text>
<circle cx="593.9" cy="359.6" r="1.6" fill="#fff" stroke="#000" stroke-width="0.95"/>
<circle cx="597.5" cy="359.6" r="1.6" fill="#fff" stroke="#000" stroke-width="0.95"/>
<circle cx="604.7" cy="310.1" r="1.6" fill="#fff" stroke="#000" stroke-width="0.95"/>
<circle cx="604.7" cy="314.1" r="1.6" fill="#fff" stroke="#000" stroke-width="0.95"/>
<circle cx="604.7" cy="328.9" r="1.6" fill="#fff" stroke="#000" stroke-width="0.95"/>
<text x="605" y="309.2" font-size="8" text-anchor="middle" fill="#111">****</text>
<circle cx="610.7" cy="339.8" r="1.6" fill="#fff" stroke="#000" stroke-width="0.95"/>
<circle cx="614.7" cy="339.8" r="1.6" fill="#fff" stroke="#000" stroke-width="0.95"/>
<circle cx="612.6" cy="344.6" r="1.6" fill="#fff" stroke="#000" stroke-width="0.95"/>
<text x="613" y="338.5" font-size="8" text-anchor="middle" fill="#111">*</text>
<circle cx="623.55" cy="359.6" r="1.6" fill="#fff" stroke="#000" stroke-width="0.95"/>
<circle cx="627.15" cy="359.6" r="1.6" fill="#fff" stroke="#000" stroke-width="0.95"/>
<circle cx="634.4" cy="301.6" r="1.6" fill="#fff" stroke="#000" stroke-width="0.95"/>
<circle cx="634.7" cy="312.2" r="1.6" fill="#fff" stroke="#000" stroke-width="0.95"/>
<circle cx="634.7" cy="320.2" r="1.6" fill="#fff" stroke="#000" stroke-width="0.95"/>
<text x="635" y="300.3" font-size="8" text-anchor="middle" fill="#111">****</text>
<circle cx="640.4" cy="338.5" r="1.6" fill="#fff" stroke="#000" stroke-width="0.95"/>
<circle cx="644.4" cy="338.5" r="1.6" fill="#fff" stroke="#000" stroke-width="0.95"/>
<circle cx="642.3" cy="343.8" r="1.6" fill="#fff" stroke="#000" stroke-width="0.95"/>
<text x="642.5" y="336.9" font-size="8" text-anchor="middle" fill="#111">*</text>
<line x1="500" y1="236" x2="500" y2="389.9" stroke="#555" stroke-width="0.9" stroke-dasharray="1.2,1.2"/>
<line x1="294.5" y1="238" x2="294.5" y2="390.4" stroke="#222" stroke-width="1.1"/>
<line x1="294" y1="389.9" x2="646.6" y2="389.9" stroke="#222" stroke-width="1.1"/>
<line x1="290.5" y1="389.9" x2="294.5" y2="389.9" stroke="#222" stroke-width="1"/>
<text x="289.5" y="393.7" font-size="10.8" text-anchor="end" fill="#111">0</text>
<line x1="290.5" y1="359.6" x2="294.5" y2="359.6" stroke="#222" stroke-width="1"/>
<text x="289.5" y="363.4" font-size="10.8" text-anchor="end" fill="#111">1</text>
<line x1="290.5" y1="329.3" x2="294.5" y2="329.3" stroke="#222" stroke-width="1"/>
<text x="289.5" y="333.1" font-size="10.8" text-anchor="end" fill="#111">2</text>
<line x1="290.5" y1="299" x2="294.5" y2="299" stroke="#222" stroke-width="1"/>
<text x="289.5" y="302.8" font-size="10.8" text-anchor="end" fill="#111">3</text>
<line x1="290.5" y1="268.7" x2="294.5" y2="268.7" stroke="#222" stroke-width="1"/>
<text x="289.5" y="272.5" font-size="10.8" text-anchor="end" fill="#111">4</text>
<line x1="290.5" y1="238.4" x2="294.5" y2="238.4" stroke="#222" stroke-width="1"/>
<text x="289.5" y="242.2" font-size="10.8" text-anchor="end" fill="#111">5</text>
<line x1="307.6" y1="389.9" x2="307.6" y2="393.9" stroke="#222" stroke-width="1"/>
<text x="307.5" y="404.2" font-size="9.7" text-anchor="middle" font-style="italic" fill="#111">wecA</text>
<line x1="337.25" y1="389.9" x2="337.25" y2="393.9" stroke="#222" stroke-width="1"/>
<text x="337.15" y="404.2" font-size="9.7" text-anchor="middle" font-style="italic" fill="#111">wzzE</text>
<line x1="366.9" y1="389.9" x2="366.9" y2="393.9" stroke="#222" stroke-width="1"/>
<text x="366.8" y="404.2" font-size="9.7" text-anchor="middle" font-style="italic" fill="#111">wecB</text>
<line x1="396.55" y1="389.9" x2="396.55" y2="393.9" stroke="#222" stroke-width="1"/>
<text x="396.45" y="404.2" font-size="9.7" text-anchor="middle" font-style="italic" fill="#111">wecC</text>
<line x1="426.2" y1="389.9" x2="426.2" y2="393.9" stroke="#222" stroke-width="1"/>
<text x="426.1" y="404.2" font-size="9.7" text-anchor="middle" font-style="italic" fill="#111">rffG</text>
<line x1="455.85" y1="389.9" x2="455.85" y2="393.9" stroke="#222" stroke-width="1"/>
<text x="455.75" y="404.2" font-size="9.7" text-anchor="middle" font-style="italic" fill="#111">rffH</text>
<line x1="485.5" y1="389.9" x2="485.5" y2="393.9" stroke="#222" stroke-width="1"/>
<text x="485.4" y="404.2" font-size="9.7" text-anchor="middle" font-style="italic" fill="#111">wecD</text>
<line x1="515.15" y1="389.9" x2="515.15" y2="393.9" stroke="#222" stroke-width="1"/>
<text x="515.05" y="404.2" font-size="9.7" text-anchor="middle" font-style="italic" fill="#111">wecE</text>
<line x1="544.8" y1="389.9" x2="544.8" y2="393.9" stroke="#222" stroke-width="1"/>
<text x="544.7" y="404.2" font-size="9.7" text-anchor="middle" font-style="italic" fill="#111">wzxE</text>
<line x1="574.45" y1="389.9" x2="574.45" y2="393.9" stroke="#222" stroke-width="1"/>
<text x="574.35" y="404.2" font-size="9.7" text-anchor="middle" font-style="italic" fill="#111">wzyE</text>
<line x1="604.1" y1="389.9" x2="604.1" y2="393.9" stroke="#222" stroke-width="1"/>
<text x="604" y="404.2" font-size="9.7" text-anchor="middle" font-style="italic" fill="#111">wecF</text>
<line x1="633.75" y1="389.9" x2="633.75" y2="393.9" stroke="#222" stroke-width="1"/>
<text x="633.65" y="404.2" font-size="9.7" text-anchor="middle" font-style="italic" fill="#111">wecG</text>
<text transform="translate(278,318) rotate(-90)" text-anchor="middle" font-size="11.35" fill="#111">Relative mRNA expression</text>
<rect x="545.3" y="234.1" width="10.8" height="5.2" fill="#000"/>
<text x="557.9" y="240.3" font-size="10" fill="#111">WT</text>
<rect x="545.3" y="248.8" width="10.8" height="5.2" fill="#c1d57e"/>
<text x="557.9" y="255" font-size="10" fill="#111">WT+p<tspan font-style="italic">mcr-1</tspan>+p<tspan font-style="italic">ecaR</tspan></text>
<rect x="545.3" y="263.8" width="10.8" height="5.2" fill="#7f7f7f"/>
<text x="557.9" y="270" font-size="10" fill="#111">TC</text>
<line x1="54.2" y1="231.4" x2="226.2" y2="231.4" stroke="#222" stroke-width="1.1"/>
<line x1="54.2" y1="247.4" x2="226.2" y2="247.4" stroke="#222" stroke-width="1.1"/>
<line x1="58" y1="231.4" x2="58" y2="247.4" stroke="#222" stroke-width="1.1"/>
<line x1="226.2" y1="231.4" x2="226.2" y2="247.4" stroke="#222" stroke-width="1.1"/>
<line x1="56.4" y1="233.5" x2="58" y2="233.5" stroke="#222" stroke-width="0.6"/>
<line x1="56.4" y1="235.7" x2="58" y2="235.7" stroke="#222" stroke-width="0.6"/>
<line x1="56.4" y1="237.9" x2="58" y2="237.9" stroke="#222" stroke-width="0.6"/>
<line x1="56.4" y1="240.1" x2="58" y2="240.1" stroke="#222" stroke-width="0.6"/>
<line x1="56.4" y1="242.3" x2="58" y2="242.3" stroke="#222" stroke-width="0.6"/>
<line x1="56.4" y1="244.5" x2="58" y2="244.5" stroke="#222" stroke-width="0.6"/>
<line x1="56.4" y1="246.7" x2="58" y2="246.7" stroke="#222" stroke-width="0.6"/>
<text x="151.5" y="244.6" font-size="10.2" text-anchor="middle" fill="#6a3cf2">-β-linked-GlcNAc-</text>
<circle cx="197.1" cy="240.9" r="4.9" fill="none" stroke="#d4373a" stroke-width="1"/>
<circle cx="197.1" cy="240.9" r="0.9" fill="#d4373a"/>
<line x1="54.2" y1="251.4" x2="226.2" y2="251.4" stroke="#222" stroke-width="1.1"/>
<line x1="58" y1="251.4" x2="58" y2="411.3" stroke="#222" stroke-width="1.1"/>
<line x1="226.2" y1="251.4" x2="226.2" y2="411.3" stroke="#222" stroke-width="1.6"/>
<line x1="58" y1="411.3" x2="226.2" y2="411.3" stroke="#222" stroke-width="1.1"/>
<line x1="54.4" y1="253.2" x2="58" y2="253.2" stroke="#222" stroke-width="0.8"/>
<text x="53.8" y="255.9" font-size="9.4" text-anchor="end" fill="#111">60</text>
<line x1="56.2" y1="258.95" x2="58" y2="258.95" stroke="#222" stroke-width="0.6"/>
<line x1="56.2" y1="264.7" x2="58" y2="264.7" stroke="#222" stroke-width="0.6"/>
<line x1="56.2" y1="270.44" x2="58" y2="270.44" stroke="#222" stroke-width="0.6"/>
<line x1="56.2" y1="276.19" x2="58" y2="276.19" stroke="#222" stroke-width="0.6"/>
<line x1="54.4" y1="281.94" x2="58" y2="281.94" stroke="#222" stroke-width="0.8"/>
<text x="53.8" y="284.64" font-size="9.4" text-anchor="end" fill="#111">70</text>
<line x1="56.2" y1="287.69" x2="58" y2="287.69" stroke="#222" stroke-width="0.6"/>
<line x1="56.2" y1="293.44" x2="58" y2="293.44" stroke="#222" stroke-width="0.6"/>
<line x1="56.2" y1="299.18" x2="58" y2="299.18" stroke="#222" stroke-width="0.6"/>
<line x1="56.2" y1="304.93" x2="58" y2="304.93" stroke="#222" stroke-width="0.6"/>
<line x1="54.4" y1="310.68" x2="58" y2="310.68" stroke="#222" stroke-width="0.8"/>
<text x="53.8" y="313.38" font-size="9.4" text-anchor="end" fill="#111">80</text>
<line x1="56.2" y1="316.43" x2="58" y2="316.43" stroke="#222" stroke-width="0.6"/>
<line x1="56.2" y1="322.18" x2="58" y2="322.18" stroke="#222" stroke-width="0.6"/>
<line x1="56.2" y1="327.92" x2="58" y2="327.92" stroke="#222" stroke-width="0.6"/>
<line x1="56.2" y1="333.67" x2="58" y2="333.67" stroke="#222" stroke-width="0.6"/>
<line x1="54.4" y1="339.42" x2="58" y2="339.42" stroke="#222" stroke-width="0.8"/>
<text x="53.8" y="342.12" font-size="9.4" text-anchor="end" fill="#111">90</text>
<line x1="56.2" y1="345.17" x2="58" y2="345.17" stroke="#222" stroke-width="0.6"/>
<line x1="56.2" y1="350.92" x2="58" y2="350.92" stroke="#222" stroke-width="0.6"/>
<line x1="56.2" y1="356.66" x2="58" y2="356.66" stroke="#222" stroke-width="0.6"/>
<line x1="56.2" y1="362.41" x2="58" y2="362.41" stroke="#222" stroke-width="0.6"/>
<line x1="54.4" y1="368.16" x2="58" y2="368.16" stroke="#222" stroke-width="0.8"/>
<text x="53.8" y="370.86" font-size="9.4" text-anchor="end" fill="#111">100</text>
<line x1="56.2" y1="373.91" x2="58" y2="373.91" stroke="#222" stroke-width="0.6"/>
<line x1="56.2" y1="379.66" x2="58" y2="379.66" stroke="#222" stroke-width="0.6"/>
<line x1="56.2" y1="385.4" x2="58" y2="385.4" stroke="#222" stroke-width="0.6"/>
<line x1="56.2" y1="391.15" x2="58" y2="391.15" stroke="#222" stroke-width="0.6"/>
<line x1="54.4" y1="396.9" x2="58" y2="396.9" stroke="#222" stroke-width="0.8"/>
<text x="53.8" y="399.6" font-size="9.4" text-anchor="end" fill="#111">110</text>
<line x1="56.2" y1="402.65" x2="58" y2="402.65" stroke="#222" stroke-width="0.6"/>
<line x1="56.2" y1="408.4" x2="58" y2="408.4" stroke="#222" stroke-width="0.6"/>
<line x1="59.08" y1="411.3" x2="59.08" y2="413.1" stroke="#222" stroke-width="0.6"/>
<line x1="66.04" y1="411.3" x2="66.04" y2="413.1" stroke="#222" stroke-width="0.6"/>
<line x1="73" y1="411.3" x2="73" y2="414.7" stroke="#222" stroke-width="0.8"/>
<text x="73" y="424.3" font-size="9.4" text-anchor="middle" fill="#111">5.5</text>
<line x1="79.96" y1="411.3" x2="79.96" y2="413.1" stroke="#222" stroke-width="0.6"/>
<line x1="86.92" y1="411.3" x2="86.92" y2="413.1" stroke="#222" stroke-width="0.6"/>
<line x1="93.88" y1="411.3" x2="93.88" y2="413.1" stroke="#222" stroke-width="0.6"/>
<line x1="100.84" y1="411.3" x2="100.84" y2="413.1" stroke="#222" stroke-width="0.6"/>
<line x1="107.8" y1="411.3" x2="107.8" y2="414.7" stroke="#222" stroke-width="0.8"/>
<text x="107.8" y="424.3" font-size="9.4" text-anchor="middle" fill="#111">5.0</text>
<line x1="114.76" y1="411.3" x2="114.76" y2="413.1" stroke="#222" stroke-width="0.6"/>
<line x1="121.72" y1="411.3" x2="121.72" y2="413.1" stroke="#222" stroke-width="0.6"/>
<line x1="128.68" y1="411.3" x2="128.68" y2="413.1" stroke="#222" stroke-width="0.6"/>
<line x1="135.64" y1="411.3" x2="135.64" y2="413.1" stroke="#222" stroke-width="0.6"/>
<line x1="142.6" y1="411.3" x2="142.6" y2="414.7" stroke="#222" stroke-width="0.8"/>
<text x="142.6" y="424.3" font-size="9.4" text-anchor="middle" fill="#111">4.5</text>
<line x1="149.56" y1="411.3" x2="149.56" y2="413.1" stroke="#222" stroke-width="0.6"/>
<line x1="156.52" y1="411.3" x2="156.52" y2="413.1" stroke="#222" stroke-width="0.6"/>
<line x1="163.48" y1="411.3" x2="163.48" y2="413.1" stroke="#222" stroke-width="0.6"/>
<line x1="170.44" y1="411.3" x2="170.44" y2="413.1" stroke="#222" stroke-width="0.6"/>
<line x1="177.4" y1="411.3" x2="177.4" y2="414.7" stroke="#222" stroke-width="0.8"/>
<text x="177.4" y="424.3" font-size="9.4" text-anchor="middle" fill="#111">4.0</text>
<line x1="184.36" y1="411.3" x2="184.36" y2="413.1" stroke="#222" stroke-width="0.6"/>
<line x1="191.32" y1="411.3" x2="191.32" y2="413.1" stroke="#222" stroke-width="0.6"/>
<line x1="198.28" y1="411.3" x2="198.28" y2="413.1" stroke="#222" stroke-width="0.6"/>
<line x1="205.24" y1="411.3" x2="205.24" y2="413.1" stroke="#222" stroke-width="0.6"/>
<line x1="212.2" y1="411.3" x2="212.2" y2="414.7" stroke="#222" stroke-width="0.8"/>
<text x="212.2" y="424.3" font-size="9.4" text-anchor="middle" fill="#111">3.5</text>
<line x1="219.16" y1="411.3" x2="219.16" y2="413.1" stroke="#222" stroke-width="0.6"/>
<line x1="226.12" y1="411.3" x2="226.12" y2="413.1" stroke="#222" stroke-width="0.6"/>
<text x="140.5" y="437" font-size="10.2" text-anchor="middle" fill="#111"><tspan font-size="6.2" dy="-3.6">1</tspan><tspan dy="3.6">H (ppm)</tspan></text>
<text transform="translate(36.8,332.5) rotate(-90)" text-anchor="middle" font-size="10.2" fill="#111"><tspan font-size="6.2" dy="-3.6">13</tspan><tspan dy="3.6">C (ppm)</tspan></text>
<ellipse cx="194.2" cy="263" rx="3.2" ry="1.8" fill="#2f8f4f" transform="rotate(-15 194.2 263)"/>
<ellipse cx="189.1" cy="267" rx="2.4" ry="1.5" fill="#2f8f4f" transform="rotate(0 189.1 267)"/>
<ellipse cx="199" cy="267" rx="2.4" ry="1.5" fill="#2f8f4f" transform="rotate(0 199 267)"/>
<ellipse cx="187.3" cy="283.5" rx="2.6" ry="1.6" fill="#a31d1d" transform="rotate(0 187.3 283.5)"/>
<ellipse cx="174.2" cy="286.9" rx="3.2" ry="1.6" fill="#a31d1d" transform="rotate(-8 174.2 286.9)"/>
<ellipse cx="166.6" cy="291.2" rx="2.3" ry="1.6" fill="#a31d1d" transform="rotate(0 166.6 291.2)"/>
<ellipse cx="158.9" cy="289.3" rx="2.2" ry="1.5" fill="#a31d1d" transform="rotate(0 158.9 289.3)"/>
<ellipse cx="170.1" cy="309.4" rx="2.2" ry="1.5" fill="#a31d1d" transform="rotate(0 170.1 309.4)"/>
<ellipse cx="159.2" cy="316.1" rx="2.2" ry="1.6" fill="#a31d1d" transform="rotate(0 159.2 316.1)"/>
<ellipse cx="171.8" cy="326.6" rx="2.5" ry="1.6" fill="#a31d1d" transform="rotate(0 171.8 326.6)"/>
<ellipse cx="93.3" cy="368.6" rx="2.2" ry="1.4" fill="#a31d1d" transform="rotate(0 93.3 368.6)"/>
<ellipse cx="80.1" cy="395.9" rx="2.2" ry="1.5" fill="#a31d1d" transform="rotate(0 80.1 395.9)"/>
<line x1="196.8" y1="261.8" x2="200.8" y2="258.6" stroke="#333" stroke-width="0.6"/>
<line x1="200" y1="268.6" x2="202.9" y2="275.2" stroke="#333" stroke-width="0.6"/>
<line x1="187.6" y1="285.2" x2="188.4" y2="295.2" stroke="#333" stroke-width="0.6"/>
<line x1="174" y1="288.4" x2="173" y2="297.2" stroke="#333" stroke-width="0.6"/>
<line x1="165.2" y1="292.6" x2="161" y2="297.4" stroke="#333" stroke-width="0.6"/>
<line x1="157" y1="290.2" x2="152.3" y2="292.3" stroke="#333" stroke-width="0.6"/>
<line x1="169.5" y1="311" x2="168" y2="313.8" stroke="#333" stroke-width="0.6"/>
<line x1="158" y1="317.7" x2="153.4" y2="321.8" stroke="#333" stroke-width="0.6"/>
<line x1="170.6" y1="328.2" x2="167.5" y2="331.2" stroke="#333" stroke-width="0.6"/>
<line x1="92" y1="369.8" x2="89.4" y2="371.6" stroke="#333" stroke-width="0.6"/>
<line x1="79" y1="397.3" x2="77" y2="399.3" stroke="#333" stroke-width="0.6"/>
<text x="209.2" y="261.5" font-size="8.6" text-anchor="middle" fill="#6a3cf2">B6</text>
<text x="185.3" y="279.5" font-size="8.6" text-anchor="middle" fill="#2ea05a">A5a</text>
<text x="208.6" y="284" font-size="8.6" text-anchor="middle" fill="#2ea05a">A5b</text>
<text x="146.4" y="298.5" font-size="8.6" text-anchor="middle" fill="#2ea05a">A3</text>
<text x="158.4" y="306.3" font-size="8.6" text-anchor="middle" fill="#6a3cf2">B5</text>
<text x="173.4" y="306.3" font-size="8.6" text-anchor="middle" fill="#6a3cf2">B3</text>
<text x="189.9" y="303.8" font-size="8.6" text-anchor="middle" fill="#6a3cf2">B2</text>
<text x="169" y="322.3" font-size="8.6" text-anchor="middle" fill="#6a3cf2">B4</text>
<text x="148" y="328.3" font-size="8.6" text-anchor="middle" fill="#2ea05a">A2</text>
<text x="166.1" y="338.7" font-size="8.6" text-anchor="middle" fill="#2ea05a">A4</text>
<text x="86.9" y="378.9" font-size="8.6" text-anchor="middle" fill="#6a3cf2">B1</text>
<text x="74.6" y="406.6" font-size="8.6" text-anchor="middle" fill="#2ea05a">A1</text>
<rect x="99.4" y="360.5" width="124.8" height="28.3" fill="#fff" stroke="#222" stroke-width="1"/>
<text x="140.5" y="372.1" font-size="9" text-anchor="middle" font-weight="bold" fill="#1ea84f">A</text>
<text x="196.8" y="372.1" font-size="9" text-anchor="middle" font-weight="bold" fill="#d21ed2">B</text>
<text x="161.8" y="381" font-size="7.9" text-anchor="middle" fill="#111">→2)-β-<tspan font-size="6">D</tspan>-Rib<tspan font-style="italic">f</tspan>-(1→4)-α-<tspan font-size="6">D</tspan>-Gal<tspan font-style="italic">p</tspan>-(1→</text>
<rect x="28.9" y="462.8" width="7.2" height="5.6" fill="#111"/>
<rect x="31.8" y="463.5" width="3" height="4.2" fill="#f3d3b5"/>
<path d="M37.2,462.8 L51.1,462.8 L51.1,460.1 L57.2,465.6 L51.1,471.1 L51.1,468.4 L37.2,468.4 Z" fill="#a6a8ab" stroke="#111" stroke-width="0.8" stroke-linejoin="miter"/>
<path d="M57.8,462.8 L73.9,462.8 L73.9,460.1 L79.8,465.6 L73.9,471.1 L73.9,468.4 L57.8,468.4 Z" fill="#a6a8ab" stroke="#111" stroke-width="0.8" stroke-linejoin="miter"/>
<path d="M80.5,462.8 L98.5,462.8 L98.5,460.1 L104.1,465.6 L98.5,471.1 L98.5,468.4 L80.5,468.4 Z" fill="#a6a8ab" stroke="#111" stroke-width="0.8" stroke-linejoin="miter"/>
<path d="M104.4,462.8 L123.3,462.8 L123.3,460.1 L129.8,465.6 L123.3,471.1 L123.3,468.4 L104.4,468.4 Z" fill="#a6a8ab" stroke="#111" stroke-width="0.8" stroke-linejoin="miter"/>
<path d="M130.1,462.8 L145.9,462.8 L145.9,460.1 L152,465.6 L145.9,471.1 L145.9,468.4 L130.1,468.4 Z" fill="#a6a8ab" stroke="#111" stroke-width="0.8" stroke-linejoin="miter"/>
<path d="M152.4,462.8 L164.8,462.8 L164.8,460.1 L170.2,465.6 L164.8,471.1 L164.8,468.4 L152.4,468.4 Z" fill="#a6a8ab" stroke="#111" stroke-width="0.8" stroke-linejoin="miter"/>
<path d="M178.4,462.8 L178.5,462.8 L178.5,460.1 L184.2,465.6 L178.5,471.1 L178.5,468.4 L178.4,468.4 Z" fill="#a6a8ab" stroke="#111" stroke-width="0.8" stroke-linejoin="miter"/>
<path d="M184.6,462.8 L201.8,462.8 L201.8,460.1 L207.7,465.6 L201.8,471.1 L201.8,468.4 L184.6,468.4 Z" fill="#a6a8ab" stroke="#111" stroke-width="0.8" stroke-linejoin="miter"/>
<path d="M208.1,462.8 L226.6,462.8 L226.6,460.1 L233.1,465.6 L226.6,471.1 L226.6,468.4 L208.1,468.4 Z" fill="#a6a8ab" stroke="#111" stroke-width="0.8" stroke-linejoin="miter"/>
<path d="M233.4,462.8 L249.9,462.8 L249.9,460.1 L256.3,465.6 L249.9,471.1 L249.9,468.4 L233.4,468.4 Z" fill="#a6a8ab" stroke="#111" stroke-width="0.8" stroke-linejoin="miter"/>
<path d="M256.6,462.8 L277.7,462.8 L277.7,460.1 L283.7,465.6 L277.7,471.1 L277.7,468.4 L256.6,468.4 Z" fill="#a6a8ab" stroke="#111" stroke-width="0.8" stroke-linejoin="miter"/>
<path d="M283.9,462.8 L293,462.8 L293,460.1 L299,465.6 L293,471.1 L293,468.4 L283.9,468.4 Z" fill="#a6a8ab" stroke="#111" stroke-width="0.8" stroke-linejoin="miter"/>
<rect x="170.3" y="462.8" width="8.4" height="5.6" fill="#111"/>
<rect x="171.6" y="463.4" width="2.2" height="4.4" fill="#9a9a9a"/>
<rect x="174.3" y="463.3" width="2.6" height="4.7" fill="#a9d8f5"/>
<rect x="297.8" y="464.2" width="2.6" height="2.8" fill="#111"/>
<text x="46.2" y="461" font-size="8" text-anchor="middle" font-style="italic" fill="#222">wecA</text>
<text x="67.3" y="461" font-size="8" text-anchor="middle" font-style="italic" fill="#222">wzzE</text>
<text x="91.2" y="461" font-size="8" text-anchor="middle" font-style="italic" fill="#222">wecB</text>
<text x="116.6" y="461" font-size="8" text-anchor="middle" font-style="italic" fill="#222">wecC</text>
<text x="139.6" y="461" font-size="8" text-anchor="middle" font-style="italic" fill="#222">rffG</text>
<text x="160.2" y="461" font-size="8" text-anchor="middle" font-style="italic" fill="#222">rffH</text>
<text x="175.3" y="461" font-size="8" text-anchor="middle" font-style="italic" fill="#222">wecD</text>
<text x="194.6" y="461" font-size="8" text-anchor="middle" font-style="italic" fill="#222">wecE</text>
<text x="218.3" y="461" font-size="8" text-anchor="middle" font-style="italic" fill="#222">wzxE</text>
<text x="244.2" y="461" font-size="8" text-anchor="middle" font-style="italic" fill="#222">wecF</text>
<text x="268.2" y="461" font-size="8" text-anchor="middle" font-style="italic" fill="#222">wzyE</text>
<text x="290.8" y="461" font-size="8" text-anchor="middle" font-style="italic" fill="#222">wecG</text>
<text x="32.2" y="478.8" font-size="8.1" text-anchor="middle" font-weight="bold" font-style="italic" fill="#111">PwecA</text>
<text x="175.3" y="479.8" font-size="8.1" text-anchor="middle" font-weight="bold" font-style="italic" fill="#111">PwecE</text>
<text x="84.4" y="500.3" font-size="9.4" text-anchor="middle" font-style="italic" fill="#111">PwecA</text>
<text x="226" y="499.8" font-size="9.4" text-anchor="middle" font-style="italic" fill="#111">PwecE</text>
<polyline points="29.2,573 29.45,573 29.7,573 29.95,573 30.2,573 30.45,573 30.7,573 30.95,573 31.2,573 31.45,573 31.7,573 31.95,573 32.2,573 32.45,573 32.7,573 32.95,573 33.2,573 33.45,573 33.7,573 33.95,573 34.2,573 34.45,573 34.7,573 34.95,573 35.2,573 35.45,572.99 35.7,572.96 35.95,572.87 36.2,572.63 36.45,572.15 36.7,571.37 36.95,570.45 37.2,569.71 37.45,569.51 37.7,569.96 37.95,570.82 38.2,571.71 38.45,572.37 38.7,572.75 38.95,572.92 39.2,572.96 39.45,572.92 39.7,572.75 39.95,572.35 40.2,571.83 40.45,571.51 40.7,571.66 40.95,572.15 41.2,572.62 41.45,572.88 41.7,572.97 41.95,573 42.2,573 42.45,573 42.7,572.99 42.95,572.95 43.2,572.78 43.45,572.26 43.7,571.1 43.95,569.22 44.2,567.17 44.45,566.04 44.7,566.55 44.95,568.37 45.2,570.42 45.45,571.89 45.7,572.62 45.95,572.87 46.2,572.83 46.45,572.46 46.7,571.47 46.95,569.62 47.2,567.23 47.45,565.36 47.7,565.16 47.95,566.77 48.2,569.16 48.45,571.17 48.7,572.32 48.95,572.81 49.2,572.96 49.45,572.99 49.7,573 49.95,573 50.2,572.97 50.45,572.82 50.7,572.17 50.95,569.91 51.2,563.81 51.45,551.13 51.7,531.34 51.95,509.46 52.2,495.39 52.45,497.1 52.7,513.56 52.95,535.72 53.2,554.28 53.45,565.47 53.7,570.58 53.95,572.38 54.2,572.87 54.45,572.98 54.7,573 54.95,573 55.2,572.98 55.45,572.91 55.7,572.66 55.95,572.14 56.2,571.44 56.45,571.01 56.7,571.21 56.95,571.86 57.2,572.49 57.45,572.84 57.7,572.96 57.95,572.99 58.2,573 58.45,573 58.7,573 58.95,573 59.2,573 59.45,572.98 59.7,572.89 59.95,572.49 60.2,571.22 60.45,568.19 60.7,562.93 60.95,556.65 61.2,552.42 61.45,552.94 61.7,557.85 61.95,564.13 62.2,568.98 62.45,571.59 62.7,572.62 62.95,572.92 63.2,572.99 63.45,572.99 63.7,572.97 63.95,572.86 64.2,572.49 64.45,571.71 64.7,570.66 64.95,570.02 65.2,570.32 65.45,571.29 65.7,572.23 65.95,572.76 66.2,572.95 66.45,572.99 66.7,573 66.95,573 67.2,573 67.45,573 67.7,573 67.95,572.97 68.2,572.83 68.45,572.3 68.7,570.79 68.95,567.61 69.2,562.79 69.45,558.04 69.7,556 69.95,558.04 70.2,562.79 70.45,567.61 70.7,570.79 70.95,572.3 71.2,572.83 71.45,572.97 71.7,573 71.95,573 72.2,573 72.45,572.97 72.7,572.85 72.95,572.39 73.2,571.09 73.45,568.34 73.7,564.17 73.95,560.06 74.2,558.3 74.45,560.06 74.7,564.17 74.95,568.34 75.2,571.09 75.45,572.39 75.7,572.85 75.95,572.97 76.2,573 76.45,572.99 76.7,572.96 76.95,572.81 77.2,572.32 77.45,571.27 77.7,569.88 77.95,569.03 78.2,569.42 78.45,570.72 78.7,571.97 78.95,572.67 79.2,572.93 79.45,572.99 79.7,572.99 79.95,572.97 80.2,572.87 80.45,572.48 80.7,571.3 80.95,568.58 81.2,563.79 81.45,557.65 81.7,552.51 81.95,551.1 82.2,554.25 82.45,560.15 82.7,565.95 82.95,569.9 83.2,571.91 83.45,572.69 83.7,572.93 83.95,572.98 84.2,572.96 84.45,572.81 84.7,572.32 84.95,571.27 85.2,569.88 85.45,569.03 85.7,569.42 85.95,570.72 86.2,571.97 86.45,572.67 86.7,572.93 86.95,572.99 87.2,572.99 87.45,572.92 87.7,572.62 87.95,571.59 88.2,568.98 88.45,564.13 88.7,557.85 88.95,552.94 89.2,552.42 89.45,556.65 89.7,562.93 89.95,568.19 90.2,571.22 90.45,572.49 90.7,572.89 90.95,572.98 91.2,573 91.45,572.99 91.7,572.92 91.95,572.58 92.2,571.48 92.45,569.12 92.7,565.99 92.95,564.06 93.2,564.95 93.45,567.87 93.7,570.69 93.95,572.27 94.2,572.84 94.45,572.97 94.7,573 94.95,573 95.2,573 95.45,573 95.7,573 95.95,573 96.2,572.99 96.45,572.92 96.7,572.63 96.95,571.74 97.2,570 97.45,567.96 97.7,567 97.95,567.96 98.2,570 98.45,571.74 98.7,572.6 98.95,572.78 99.2,572.48 99.45,571.7 99.7,570.66 99.95,570.02 100.2,570.32 100.45,571.29 100.7,572.23 100.95,572.74 101.2,572.86 101.45,572.6 101.7,571.64 101.95,569.34 102.2,565.33 102.45,560.54 102.7,557.32 102.95,557.72 103.2,561.46 103.45,566.24 103.7,569.94 103.95,571.92 104.2,572.71 104.45,572.94 104.7,572.99 104.95,572.99 105.2,572.96 105.45,572.8 105.7,572.23 105.95,570.7 106.2,567.67 106.45,563.41 106.7,559.64 106.95,558.57 107.2,560.93 107.45,565.18 107.7,569.07 107.95,571.47 108.2,572.54 108.45,572.87 108.7,572.84 108.95,572.39 109.2,571.08 109.45,568.73 109.7,566.29 109.95,565.55 110.2,567.16 110.45,569.76 110.7,571.7 110.95,572.51 111.2,572.42 111.45,571.7 111.7,570.66 111.95,570.02 112.2,570.31 112.45,571.23 112.7,571.94 112.95,571.58 113.2,569.06 113.45,562.48 113.7,549.59 113.95,530.11 114.2,508.36 114.45,492.87 114.7,491.29 114.95,504.46 115.2,525.71 115.45,546.16 115.7,560.47 115.95,568.19 116.2,571.48 116.45,572.6 116.7,572.92 116.95,572.99 117.2,573 117.45,573 117.7,572.97 117.95,572.86 118.2,572.49 118.45,571.71 118.7,570.66 118.95,570.02 119.2,570.32 119.45,571.29 119.7,572.23 119.95,572.76 120.2,572.95 120.45,572.99 120.7,573 120.95,573 121.2,573 121.45,573 121.7,572.97 121.95,572.86 122.2,572.49 122.45,571.71 122.7,570.66 122.95,570.02 123.2,570.32 123.45,571.29 123.7,572.23 123.95,572.76 124.2,572.94 124.45,572.99 124.7,572.97 124.95,572.86 125.2,572.49 125.45,571.71 125.7,570.66 125.95,570.02 126.2,570.32 126.45,571.29 126.7,572.23 126.95,572.76 127.2,572.95 127.45,572.99 127.7,573 127.95,573 128.2,573 128.45,572.99 128.7,572.94 128.95,572.72 129.2,571.91 129.45,569.75 129.7,565.46 129.95,559.44 130.2,554.11 130.45,552.6 130.7,555.94 130.95,561.94 131.2,567.45 131.45,570.84 131.7,572.35 131.95,572.85 132.2,572.97 132.45,573 132.7,573 132.95,573 133.2,573 133.45,573 133.7,572.97 133.95,572.81 134.2,572.21 134.45,570.68 134.7,568.19 134.95,565.95 135.2,565.71 135.45,567.66 135.7,570.24 135.95,571.99 136.2,572.74 136.45,572.95 136.7,572.99 136.95,573 137.2,573 137.45,572.99 137.7,572.95 137.95,572.71 138.2,571.79 138.45,569.44 138.7,565.63 138.95,562.2 139.2,561.82 139.45,564.82 139.7,568.77 139.95,571.45 140.2,572.6 140.45,572.93 140.7,572.99 140.95,572.99 141.2,572.96 141.45,572.76 141.7,572 141.95,570.06 142.2,566.91 142.45,564.08 142.7,563.76 142.95,566.24 143.2,569.51 143.45,571.72 143.7,572.67 143.95,572.94 144.2,572.99 144.45,573 144.7,573 144.95,572.99 145.2,572.93 145.45,572.64 145.7,571.64 145.95,569.17 146.2,564.98 146.45,560.49 146.7,558.5 146.95,560.49 147.2,564.98 147.45,569.17 147.7,571.64 147.95,572.64 148.2,572.93" fill="none" stroke="#ff6a6a" stroke-width="0.7" stroke-linejoin="round"/>
<polyline points="29.2,573 29.45,573 29.7,573 29.95,573 30.2,573 30.45,573 30.7,573 30.95,573 31.2,573 31.45,573 31.7,573 31.95,573 32.2,573 32.45,573 32.7,573 32.95,573 33.2,573 33.45,573 33.7,573 33.95,573 34.2,573 34.45,573 34.7,573 34.95,573 35.2,573 35.45,573 35.7,573 35.95,573 36.2,573 36.45,573 36.7,573 36.95,573 37.2,573 37.45,573 37.7,573 37.95,573 38.2,573 38.45,573 38.7,573 38.95,573 39.2,573 39.45,573 39.7,573 39.95,573 40.2,573 40.45,573 40.7,573 40.95,573 41.2,573 41.45,573 41.7,573 41.95,573 42.2,573 42.45,573 42.7,572.99 42.95,572.97 43.2,572.86 43.45,572.53 43.7,571.78 43.95,570.57 44.2,569.26 44.45,568.52 44.7,568.85 44.95,570.02 45.2,571.34 45.45,572.29 45.7,572.76 45.95,572.92 46.2,572.91 46.45,572.73 46.7,572.23 46.95,571.31 47.2,570.11 47.45,569.18 47.7,569.08 47.95,569.88 48.2,571.08 48.45,572.08 48.7,572.66 48.95,572.9 49.2,572.98 49.45,573 49.7,573 49.95,573 50.2,572.98 50.45,572.91 50.7,572.58 50.95,571.43 51.2,568.35 51.45,561.93 51.7,551.91 51.95,540.83 52.2,533.7 52.45,534.57 52.7,542.9 52.95,554.13 53.2,563.52 53.45,569.19 53.7,571.77 53.95,572.68 54.2,572.93 54.45,572.99 54.7,573 54.95,573 55.2,573 55.45,573 55.7,573 55.95,573 56.2,573 56.45,573 56.7,573 56.95,573 57.2,573 57.45,573 57.7,573 57.95,573 58.2,573 58.45,573 58.7,573 58.95,573 59.2,573 59.45,572.99 59.7,572.93 59.95,572.7 60.2,571.94 60.45,570.14 60.7,567 60.95,563.26 61.2,560.75 61.45,561.06 61.7,563.98 61.95,567.72 62.2,570.61 62.45,572.16 62.7,572.77 62.95,572.95 63.2,572.99 63.45,573 63.7,572.98 63.95,572.91 64.2,572.66 64.45,572.14 64.7,571.44 64.95,571.01 65.2,571.21 65.45,571.86 65.7,572.49 65.95,572.84 66.2,572.96 66.45,572.99 66.7,573 66.95,573 67.2,573 67.45,573 67.7,573 67.95,572.98 68.2,572.88 68.45,572.53 68.7,571.51 68.95,569.35 69.2,566.1 69.45,562.88 69.7,561.5 69.95,562.88 70.2,566.1 70.45,569.35 70.7,571.51 70.95,572.53 71.2,572.88 71.45,572.98 71.7,573 71.95,573 72.2,573 72.45,572.98 72.7,572.88 72.95,572.53 73.2,571.51 73.45,569.35 73.7,566.1 73.95,562.88 74.2,561.5 74.45,562.88 74.7,566.1 74.95,569.35 75.2,571.51 75.45,572.53 75.7,572.88 75.95,572.98 76.2,573 76.45,573 76.7,573 76.95,573 77.2,573 77.45,573 77.7,573 77.95,573 78.2,573 78.45,573 78.7,573 78.95,573 79.2,573 79.45,573 79.7,573 79.95,572.98 80.2,572.92 80.45,572.68 80.7,571.96 80.95,570.29 81.2,567.35 81.45,563.58 81.7,560.43 81.95,559.56 82.2,561.5 82.45,565.12 82.7,568.67 82.95,571.1 83.2,572.33 83.45,572.81 83.7,572.96 83.95,572.99 84.2,572.98 84.45,572.88 84.7,572.58 84.95,571.92 85.2,571.05 85.45,570.52 85.7,570.76 85.95,571.58 86.2,572.36 86.45,572.8 86.7,572.95 86.95,572.99 87.2,572.99 87.45,572.96 87.7,572.79 87.95,572.23 88.2,570.8 88.45,568.14 88.7,564.7 88.95,562.02 89.2,561.73 89.45,564.04 89.7,567.48 89.95,570.37 90.2,572.03 90.45,572.72 90.7,572.94 90.95,572.99 91.2,573 91.45,572.99 91.7,572.96 91.95,572.81 92.2,572.32 92.45,571.27 92.7,569.88 92.95,569.03 93.2,569.42 93.45,570.72 93.7,571.97 93.95,572.67 94.2,572.93 94.45,572.99 94.7,573 94.95,573 95.2,573 95.45,573 95.7,573 95.95,573 96.2,572.99 96.45,572.96 96.7,572.81 96.95,572.37 97.2,571.5 97.45,570.48 97.7,570 97.95,570.48 98.2,571.5 98.45,572.37 98.7,572.81 98.95,572.96 99.2,572.99 99.45,573 99.7,573 99.95,573 100.2,573 100.45,573 100.7,573 100.95,572.99 101.2,572.95 101.45,572.77 101.7,572.2 101.95,570.83 102.2,568.44 102.45,565.6 102.7,563.69 102.95,563.93 103.2,566.15 103.45,568.99 103.7,571.18 103.95,572.36 104.2,572.83 104.45,572.96 104.7,572.99 104.95,573 105.2,572.97 105.45,572.87 105.7,572.5 105.95,571.49 106.2,569.51 106.45,566.72 106.7,564.24 106.95,563.55 107.2,565.09 107.45,567.88 107.7,570.43 107.95,572 108.2,572.7 108.45,572.93 108.7,572.99 108.95,573 109.2,573 109.45,573 109.7,573 109.95,573 110.2,573 110.45,573 110.7,573 110.95,573 111.2,573 111.45,573 111.7,573 111.95,573 112.2,572.99 112.45,572.97 112.7,572.85 112.95,572.42 113.2,571.08 113.45,567.81 113.7,561.44 113.95,551.81 114.2,541.07 114.45,533.42 114.7,532.64 114.95,539.14 115.2,549.64 115.45,559.74 115.7,566.81 115.95,570.62 116.2,572.25 116.45,572.8 116.7,572.96 116.95,572.99 117.2,573 117.45,573 117.7,573 117.95,573 118.2,573 118.45,573 118.7,573 118.95,573 119.2,573 119.45,573 119.7,573 119.95,573 120.2,573 120.45,573 120.7,573 120.95,573 121.2,573 121.45,573 121.7,573 121.95,573 122.2,573 122.45,573 122.7,573 122.95,573 123.2,573 123.45,573 123.7,573 123.95,573 124.2,573 124.45,573 124.7,573 124.95,573 125.2,573 125.45,573 125.7,573 125.95,573 126.2,573 126.45,573 126.7,573 126.95,573 127.2,573 127.45,573 127.7,573 127.95,573 128.2,573 128.45,573 128.7,572.97 128.95,572.84 129.2,572.39 129.45,571.18 129.7,568.77 129.95,565.39 130.2,562.4 130.45,561.56 130.7,563.43 130.95,566.8 131.2,569.89 131.45,571.79 131.7,572.63 131.95,572.91 132.2,572.98 132.45,573 132.7,573 132.95,573 133.2,573 133.45,573 133.7,572.98 133.95,572.91 134.2,572.63 134.45,571.92 134.7,570.76 134.95,569.71 135.2,569.6 135.45,570.51 135.7,571.71 135.95,572.53 136.2,572.88 136.45,572.98 136.7,573 136.95,573 137.2,573 137.45,573 137.7,572.97 137.95,572.85 138.2,572.37 138.45,571.14 138.7,569.15 138.95,567.36 139.2,567.16 139.45,568.73 139.7,570.79 139.95,572.19 140.2,572.79 140.45,572.96 140.7,572.99 140.95,573 141.2,572.98 141.45,572.9 141.7,572.58 141.95,571.76 142.2,570.44 142.45,569.24 142.7,569.11 142.95,570.15 143.2,571.53 143.45,572.46 143.7,572.86 143.95,572.97 144.2,573 144.45,573 144.7,573 144.95,572.99 145.2,572.94 145.45,572.72 145.7,571.92 145.95,569.96 146.2,566.64 146.45,563.08 146.7,561.5 146.95,563.08 147.2,566.64 147.45,569.96 147.7,571.92 147.95,572.72 148.2,572.94" fill="none" stroke="#5555f5" stroke-width="0.7" stroke-linejoin="round"/>
<polyline points="163.3,573.5 163.55,573.5 163.8,573.48 164.05,573.46 164.3,573.39 164.55,573.26 164.8,573.03 165.05,572.69 165.3,572.27 165.55,571.87 165.8,571.58 166.05,571.5 166.3,571.67 166.55,572.02 166.8,572.45 167.05,572.84 167.3,573.13 167.55,573.32 167.8,573.42 168.05,573.47 168.3,573.47 168.55,573.44 168.8,573.34 169.05,573.13 169.3,572.8 169.55,572.41 169.8,572.09 170.05,572.01 170.3,572.2 170.55,572.56 170.8,572.95 171.05,573.23 171.3,573.39 171.55,573.46 171.8,573.49 172.05,573.5 172.3,573.5 172.55,573.5 172.8,573.5 173.05,573.5 173.3,573.48 173.55,573.44 173.8,573.34 174.05,573.13 174.3,572.8 174.55,572.41 174.8,572.09 175.05,572.01 175.3,572.2 175.55,572.56 175.8,572.95 176.05,573.23 176.3,573.39 176.55,573.46 176.8,573.49 177.05,573.5 177.3,573.5 177.55,573.5 177.8,573.5 178.05,573.49 178.3,573.45 178.55,573.31 178.8,572.97 179.05,572.28 179.3,571.17 179.55,569.86 179.8,568.8 180.05,568.52 180.3,569.16 180.55,570.38 180.8,571.66 181.05,572.61 181.3,573.14 181.55,573.38 181.8,573.47 182.05,573.49 182.3,573.5 182.55,573.5 182.8,573.5 183.05,573.5 183.3,573.5 183.55,573.5 183.8,573.5 184.05,573.5 184.3,573.5 184.55,573.5 184.8,573.5 185.05,573.5 185.3,573.5 185.55,573.5 185.8,573.5 186.05,573.5 186.3,573.5 186.55,573.5 186.8,573.49 187.05,573.47 187.3,573.44 187.55,573.36 187.8,573.21 188.05,572.94 188.3,572.48 188.55,571.78 188.8,570.75 189.05,569.39 189.3,567.74 189.55,565.91 189.8,564.1 190.05,562.55 190.3,561.45 190.55,560.88 190.8,560.78 191.05,560.9 191.3,560.86 191.55,560.32 191.8,559.05 192.05,557.08 192.3,554.74 192.55,552.58 192.8,551.21 193.05,551.1 193.3,552.42 193.55,555 193.8,558.38 194.05,561.96 194.3,565.07 194.55,566.85 194.8,565.93 195.05,560.41 195.3,549.08 195.55,533.91 195.8,521 196.05,517.35 196.3,525.08 196.55,539.43 196.8,553.01 197.05,561.2 197.3,563.59 197.55,562.01 197.8,558.38 198.05,554.11 198.3,550.21 198.55,547.48 198.8,546.5 199.05,547.48 199.3,550.21 199.55,554.14 199.8,558.55 200.05,562.73 200.3,566.09 200.55,568.06 200.8,567.83 201.05,564.29 201.3,556.64 201.55,545.74 201.8,535.06 202.05,529.42 202.3,531.69 202.55,540.46 202.8,551.14 203.05,559.36 203.3,563.3 203.55,563.48 203.8,561.47 204.05,558.77 204.3,556.51 204.55,555.39 204.8,555.68 205.05,557.22 205.3,559.48 205.55,561.79 205.8,563.57 206.05,564.51 206.3,564.67 206.55,564.39 206.8,564.09 207.05,564.15 207.3,564.71 207.55,565.67 207.8,566.77 208.05,567.69 208.3,568.26 208.55,568.54 208.8,568.71 209.05,569.02 209.3,569.62 209.55,570.45 209.8,571.35 210.05,572.16 210.3,572.76 210.55,573.14 210.8,573.34 211.05,573.44 211.3,573.48 211.55,573.49 211.8,573.5 212.05,573.49 212.3,573.48 212.55,573.45 212.8,573.4 213.05,573.29 213.3,573.1 213.55,572.8 213.8,572.4 214.05,571.9 214.3,571.37 214.55,570.89 214.8,570.58 215.05,570.51 215.3,570.68 215.55,571.07 215.8,571.58 216.05,572.1 216.3,572.57 216.55,572.93 216.8,573.17 217.05,573.32 217.3,573.38 217.55,573.38 217.8,573.32 218.05,573.19 218.3,572.98 218.55,572.64 218.8,572.14 219.05,571.46 219.3,570.59 219.55,569.54 219.8,568.37 220.05,567.17 220.3,566.06 220.55,565.16 220.8,564.59 221.05,564.4 221.3,564.61 221.55,565.14 221.8,565.85 222.05,566.59 222.3,567.19 222.55,567.49 222.8,567.4 223.05,566.92 223.3,566.09 223.55,565.05 223.8,563.99 224.05,563.08 224.3,562.5 224.55,562.35 224.8,562.66 225.05,563.38 225.3,564.35 225.55,565.39 225.8,566.3 226.05,566.93 226.3,567.16 226.55,566.97 226.8,566.41 227.05,565.6 227.3,564.73 227.55,563.97 227.8,563.49 228.05,563.42 228.3,563.78 228.55,564.54 228.8,565.58 229.05,566.76 229.3,567.91 229.55,568.87 229.8,569.53 230.05,569.85 230.3,569.84 230.55,569.56 230.8,569.14 231.05,568.73 231.3,568.46 231.55,568.43 231.8,568.69 232.05,569.2 232.3,569.89 232.55,570.65 232.8,571.39 233.05,572.03 233.3,572.54 233.55,572.9 233.8,573.14 234.05,573.26 234.3,573.29 234.55,573.22 234.8,573.06 235.05,572.77 235.3,572.35 235.55,571.79 235.8,571.1 236.05,570.34 236.3,569.61 236.55,568.99 236.8,568.6 237.05,568.51 237.3,568.72 237.55,569.21 237.8,569.89 238.05,570.64 238.3,571.35 238.55,571.94 238.8,572.33 239.05,572.49 239.3,572.36 239.55,571.93 239.8,571.2 240.05,570.25 240.3,569.21 240.55,568.28 240.8,567.66 241.05,567.51 241.3,567.86 241.55,568.62 241.8,569.61 242.05,570.58 242.3,571.31 242.55,571.64 242.8,571.45 243.05,570.74 243.3,569.67 243.55,568.53 243.8,567.71 244.05,567.51 244.3,568.01 244.55,569.03 244.8,570.16 245.05,570.81 245.3,570.18 245.55,567.56 245.8,563.06 246.05,558.45 246.3,556.47 246.55,558.5 246.8,563.17 247.05,567.61 247.3,569.73 247.55,568.99 247.8,566.12 248.05,562.9 248.3,561.5 248.55,562.93 248.8,566.28 249.05,569.56 249.3,571.21 249.55,570.06 249.8,564.58 250.05,553.93 250.3,541.17 250.55,533.73 250.8,537.09 251.05,548.6 251.3,560.39 251.55,566.88 251.8,567.3 252.05,563.52 252.3,558.48 252.55,555.58 252.8,556.89 253.05,561.46 253.3,566.26 253.55,568.55 253.8,567.55 254.05,564.85 254.3,563.45 254.55,565.08 254.8,568.43 255.05,570.9 255.3,570.45 255.55,565.19 255.8,554.01 256.05,540.71 256.3,534.5 256.55,540.69 256.8,553.9 257.05,564.85 257.3,569.73 257.55,570.04 257.8,568.37 258.05,566.81 258.3,566.64 258.55,568.05 258.8,570.14 259.05,571.9 259.3,572.91 259.55,573.33 259.8,573.46 260.05,573.49 260.3,573.49 260.55,573.47 260.8,573.39 261.05,573.18 261.3,572.76 261.55,572.18 261.8,571.66 262.05,571.51 262.3,571.84 262.55,572.42 262.8,572.96 263.05,573.29 263.3,573.44 263.55,573.49 263.8,573.5 264.05,573.5 264.3,573.5 264.55,573.49 264.8,573.45 265.05,573.26 265.3,572.73 265.55,571.79 265.8,570.82 266.05,570.52 266.3,571.16 266.55,572.21 266.8,572.99 267.05,573.36 267.3,573.47 267.55,573.5 267.8,573.5 268.05,573.5 268.3,573.5 268.55,573.5 268.8,573.5 269.05,573.5 269.3,573.5 269.55,573.5 269.8,573.5 270.05,573.5 270.3,573.48 270.55,573.38 270.8,573.08 271.05,572.42 271.3,571.55 271.55,571.02 271.8,571.26 272.05,572.08 272.3,572.86 272.55,573.3 272.8,573.45 273.05,573.49 273.3,573.49 273.55,573.46 273.8,573.34 274.05,573.02 274.3,572.4 274.55,571.52 274.8,570.74 275.05,570.52 275.3,571 275.55,571.88 275.8,572.69 276.05,573.18 276.3,573.4 276.55,573.48 276.8,573.49 277.05,573.47 277.3,573.34 277.55,572.98 277.8,572.25 278.05,571.4 278.3,571 278.55,571.4 278.8,572.25 279.05,572.98 279.3,573.34 279.55,573.47 279.8,573.5 280.05,573.5 280.3,573.5 280.55,573.5 280.8,573.5 281.05,573.5 281.3,573.5 281.55,573.5 281.8,573.5" fill="none" stroke="#ff6a6a" stroke-width="0.7" stroke-linejoin="round"/>
<polyline points="163.3,562 163.55,562.66 163.8,564.37 164.05,566.46 164.3,568.3 164.55,569.55 164.8,570.21 165.05,570.43 165.3,570.38 165.55,570.2 165.8,569.94 166.05,569.66 166.3,569.39 166.55,569.17 166.8,569.04 167.05,569 167.3,569.08 167.55,569.25 167.8,569.5 168.05,569.77 168.3,570.06 168.55,570.31 168.8,570.53 169.05,570.69 169.3,570.81 169.55,570.89 169.8,570.94 170.05,570.97 170.3,570.98 170.55,570.99 170.8,571 171.05,571 171.3,571 171.55,571 171.8,571 172.05,571 172.3,571 172.55,571 172.8,571 173.05,571 173.3,571 173.55,571 173.8,571 174.05,571 174.3,571 174.55,571 174.8,571 175.05,571 175.3,571 175.55,571 175.8,571 176.05,571 176.3,571 176.55,571 176.8,571 177.05,571 177.3,571 177.55,571 177.8,571 178.05,571 178.3,571 178.55,571 178.8,571 179.05,571 179.3,571 179.55,571 179.8,571 180.05,571 180.3,571 180.55,571 180.8,571 181.05,571 181.3,571 181.55,571 181.8,571 182.05,571 182.3,571 182.55,571 182.8,571 183.05,570.99 183.3,570.97 183.55,570.94 183.8,570.86 184.05,570.71 184.3,570.46 184.55,570.07 184.8,569.53 185.05,568.86 185.3,568.15 185.55,567.52 185.8,567.11 186.05,567.01 186.3,567.24 186.55,567.76 186.8,568.43 187.05,569.14 187.3,569.75 187.55,570.19 187.8,570.41 188.05,570.34 188.3,569.88 188.55,568.99 188.8,567.71 189.05,566.32 189.3,565.29 189.55,565.02 189.8,565.63 190.05,566.86 190.3,568.26 190.55,569.42 190.8,570.15 191.05,570.48 191.3,570.49 191.55,570.27 191.8,569.89 192.05,569.4 192.3,568.86 192.55,568.39 192.8,568.08 193.05,568.01 193.3,568.18 193.55,568.57 193.8,569.08 194.05,569.6 194.3,570.07 194.55,570.43 194.8,570.66 195.05,570.79 195.3,570.83 195.55,570.78 195.8,570.65 196.05,570.42 196.3,570.08 196.55,569.63 196.8,569.08 197.05,568.48 197.3,567.88 197.55,567.39 197.8,567.08 198.05,567.01 198.3,567.18 198.55,567.57 198.8,568.11 199.05,568.72 199.3,569.31 199.55,569.83 199.8,570.23 200.05,570.53 200.3,570.73 200.55,570.85 200.8,570.92 201.05,570.96 201.3,570.96 201.55,570.93 201.8,570.86 202.05,570.71 202.3,570.46 202.55,570.07 202.8,569.53 203.05,568.86 203.3,568.15 203.55,567.52 203.8,567.11 204.05,567.01 204.3,567.24 204.55,567.76 204.8,568.44 205.05,569.14 205.3,569.76 205.55,570.25 205.8,570.58 206.05,570.78 206.3,570.88 206.55,570.92 206.8,570.9 207.05,570.82 207.3,570.66 207.55,570.42 207.8,570.08 208.05,569.66 208.3,569.22 208.55,568.83 208.8,568.57 209.05,568.5 209.3,568.65 209.55,568.97 209.8,569.4 210.05,569.84 210.3,570.23 210.55,570.53 210.8,570.74 211.05,570.86 211.3,570.93 211.55,570.96 211.8,570.96 212.05,570.92 212.3,570.8 212.55,570.57 212.8,570.17 213.05,569.58 213.3,568.86 213.55,568.14 213.8,567.64 214.05,567.51 214.3,567.8 214.55,568.41 214.8,569.15 215.05,569.84 215.3,570.35 215.55,570.68 215.8,570.86 216.05,570.94 216.3,570.95 216.55,570.93 216.8,570.84 217.05,570.68 217.3,570.4 217.55,569.95 217.8,569.34 218.05,568.6 218.3,567.8 218.55,567.09 218.8,566.62 219.05,566.51 219.3,566.77 219.55,567.35 219.8,568.11 220.05,568.91 220.3,569.61 220.55,570.15 220.8,570.52 221.05,570.75 221.3,570.86 221.55,570.89 221.8,570.84 222.05,570.71 222.3,570.46 222.55,570.07 222.8,569.53 223.05,568.86 223.3,568.15 223.55,567.52 223.8,567.11 224.05,567.01 224.3,567.24 224.55,567.76 224.8,568.44 225.05,569.14 225.3,569.76 225.55,570.24 225.8,570.57 226.05,570.77 226.3,570.86 226.55,570.87 226.8,570.79 227.05,570.6 227.3,570.26 227.55,569.72 227.8,568.98 228.05,568.06 228.3,567.09 228.55,566.22 228.8,565.65 229.05,565.51 229.3,565.83 229.55,566.54 229.8,567.47 230.05,568.44 230.3,569.3 230.55,569.96 230.8,570.42 231.05,570.7 231.3,570.86 231.55,570.94 231.8,570.96 232.05,570.92 232.3,570.73 232.55,570.22 232.8,569.11 233.05,567.26 233.3,564.91 233.55,562.84 233.8,562 234.05,562.84 234.3,564.91 234.55,567.25 234.8,569.07 235.05,570.08 235.3,570.4 235.55,570.19 235.8,569.56 236.05,568.56 236.3,567.32 236.55,566.1 236.8,565.24 237.05,565.01 237.3,565.52 237.55,566.57 237.8,567.84 238.05,569.01 238.3,569.89 238.55,570.44 238.8,570.73 239.05,570.8 239.3,570.69 239.55,570.38 239.8,569.81 240.05,568.97 240.3,567.94 240.55,566.92 240.8,566.2 241.05,566.01 241.3,566.43 241.55,567.31 241.8,568.36 242.05,569.34 242.3,570.07 242.55,570.54 242.8,570.76 243.05,570.81 243.3,570.7 243.55,570.38 243.8,569.81 244.05,568.97 244.3,567.94 244.55,566.92 244.8,566.2 245.05,566.01 245.3,566.43 245.55,567.31 245.8,568.36 246.05,569.34 246.3,570.07 246.55,570.53 246.8,570.76 247.05,570.79 247.3,570.64 247.55,570.26 247.8,569.58 248.05,568.57 248.3,567.32 248.55,566.1 248.8,565.24 249.05,565.01 249.3,565.52 249.55,566.57 249.8,567.84 250.05,569.01 250.3,569.89 250.55,570.46 250.8,570.77 251.05,570.91 251.3,570.97 251.55,570.98 251.8,570.94 252.05,570.67 252.3,569.63 252.55,566.98 252.8,562.66 253.05,558.79 253.3,558.36 253.55,561.75 253.8,566.22 254.05,569.25 254.3,570.55 254.55,570.9 254.8,570.86 255.05,570.43 255.3,569.21 255.55,567.01 255.8,564.74 256.05,564.05 256.3,565.55 256.55,567.98 256.8,569.82 257.05,570.67 257.3,570.94 257.55,570.99 257.8,571 258.05,571 258.3,571 258.55,570.99 258.8,570.98 259.05,570.93 259.3,570.83 259.55,570.63 259.8,570.29 260.05,569.78 260.3,569.16 260.55,568.55 260.8,568.12 261.05,568.01 261.3,568.26 261.55,568.78 261.8,569.42 262.05,570 262.3,570.45 262.55,570.73 262.8,570.88 263.05,570.96 263.3,570.98 263.55,571 263.8,571 264.05,571 264.3,570.97 264.55,570.76 264.8,569.73 265.05,567 265.3,563.33 265.55,562.09 265.8,564.72 266.05,568.32 266.3,570.3 266.55,570.88 266.8,570.94 267.05,570.8 267.3,570.36 267.55,569.58 267.8,568.76 268.05,568.52 268.3,569.05 268.55,569.92 268.8,570.58 269.05,570.88 269.3,570.98 269.55,571 269.8,571 270.05,571 270.3,570.99 270.55,570.91 270.8,570.46 271.05,568.91 271.3,566.12 271.55,564.07 271.8,565.03 272.05,567.89 272.3,570.01 272.55,570.81 272.8,570.98 273.05,571 273.3,571 273.55,570.99 273.8,570.95 274.05,570.8 274.3,570.36 274.55,569.58 274.8,568.76 275.05,568.52 275.3,569.05 275.55,569.92 275.8,570.58 276.05,570.88 276.3,570.98 276.55,571 276.8,571 277.05,570.99 277.3,570.87 277.55,570.26 277.8,568.42 278.05,565.55 278.3,564 278.55,565.55 278.8,568.42 279.05,570.26 279.3,570.87 279.55,570.99 279.8,571 280.05,571 280.3,571 280.55,571 280.8,571 281.05,571 281.3,571 281.55,571 281.8,571" fill="none" stroke="#5555f5" stroke-width="0.7" stroke-linejoin="round"/>
<rect x="179.2" y="516.8" width="1.8" height="57.4" fill="#e020e8"/>
<rect x="179.6" y="530" width="1" height="40" fill="#a020f0" opacity="0.6"/>
<line x1="1.2" y1="584.8" x2="47.9" y2="572.4" stroke="#111" stroke-width="0.9"/>
<line x1="154.6" y1="584.8" x2="132" y2="572.4" stroke="#111" stroke-width="0.9"/>
<rect x="1.2" y="584.8" width="153.4" height="19.5" fill="#fbe3d3" stroke="#222" stroke-width="1"/>
<text x="77.4" y="598.2" font-size="8.2" text-anchor="middle" fill="#111">5-GCCGCGCTGGCGATGTTAGGAA-3</text>
<line x1="158.4" y1="584.8" x2="181" y2="575.2" stroke="#111" stroke-width="0.9"/>
<line x1="301.3" y1="585.2" x2="260.9" y2="573.1" stroke="#111" stroke-width="0.9"/>
<rect x="158.4" y="584.8" width="142.9" height="19.5" fill="#bdd7ee" stroke="#222" stroke-width="1"/>
<text x="230" y="598.2" font-size="8.2" text-anchor="middle" fill="#111">5-CGCCGCACGTAA-3</text>
<line x1="358.45" y1="552.4" x2="358.45" y2="541.4" stroke="#000" stroke-width="1"/>
<line x1="353.45" y1="541.4" x2="363.45" y2="541.4" stroke="#000" stroke-width="1"/>
<rect x="348.9" y="552.4" width="19.1" height="48.8" fill="#000"/>
<circle cx="358.4" cy="539.5" r="1.95" fill="#fff" stroke="#000" stroke-width="1"/>
<circle cx="353.3" cy="557.5" r="1.95" fill="#fff" stroke="#000" stroke-width="1"/>
<circle cx="363.1" cy="560" r="1.95" fill="#fff" stroke="#000" stroke-width="1"/>
<line x1="358.45" y1="601.2" x2="358.45" y2="606.4" stroke="#222" stroke-width="1"/>
<line x1="383.55" y1="551.2" x2="383.55" y2="537.2" stroke="#8fbcf6" stroke-width="1"/>
<line x1="378.55" y1="537.2" x2="388.55" y2="537.2" stroke="#8fbcf6" stroke-width="1"/>
<rect x="374.1" y="551.2" width="18.9" height="50" fill="#8fbcf6"/>
<circle cx="383.5" cy="539.1" r="1.95" fill="#fff" stroke="#000" stroke-width="1"/>
<circle cx="383.5" cy="547.6" r="1.95" fill="#fff" stroke="#000" stroke-width="1"/>
<circle cx="383.5" cy="566.6" r="1.95" fill="#fff" stroke="#000" stroke-width="1"/>
<text x="383.25" y="534" font-size="8.4" text-anchor="middle" fill="#111">ns</text>
<line x1="383.55" y1="601.2" x2="383.55" y2="606.4" stroke="#222" stroke-width="1"/>
<line x1="414.75" y1="572" x2="414.75" y2="566.9" stroke="#000" stroke-width="1"/>
<line x1="409.75" y1="566.9" x2="419.75" y2="566.9" stroke="#000" stroke-width="1"/>
<rect x="405.3" y="572" width="18.9" height="29.2" fill="#000"/>
<circle cx="410" cy="571.7" r="1.95" fill="#fff" stroke="#000" stroke-width="1"/>
<circle cx="414.8" cy="566.9" r="1.95" fill="#fff" stroke="#000" stroke-width="1"/>
<circle cx="419.5" cy="577.4" r="1.95" fill="#fff" stroke="#000" stroke-width="1"/>
<line x1="414.75" y1="601.2" x2="414.75" y2="606.4" stroke="#222" stroke-width="1"/>
<line x1="438.8" y1="510.5" x2="438.8" y2="495.4" stroke="#8fbcf6" stroke-width="1"/>
<line x1="433.8" y1="495.4" x2="443.8" y2="495.4" stroke="#8fbcf6" stroke-width="1"/>
<rect x="429.3" y="510.5" width="19" height="90.7" fill="#8fbcf6"/>
<circle cx="433.7" cy="500.7" r="1.95" fill="#fff" stroke="#000" stroke-width="1"/>
<circle cx="443.7" cy="502" r="1.95" fill="#fff" stroke="#000" stroke-width="1"/>
<circle cx="438.4" cy="528.1" r="1.95" fill="#fff" stroke="#000" stroke-width="1"/>
<text x="439.1" y="494.6" font-size="7.6" text-anchor="middle" fill="#111">**</text>
<line x1="438.8" y1="601.2" x2="438.8" y2="606.4" stroke="#222" stroke-width="1"/>
<line x1="399.6" y1="469" x2="399.6" y2="601.2" stroke="#555" stroke-width="0.9" stroke-dasharray="1.2,1.2"/>
<rect x="342.7" y="469" width="111.8" height="132.2" fill="none" stroke="#222" stroke-width="1.1"/>
<line x1="337.3" y1="601.2" x2="342.7" y2="601.2" stroke="#222" stroke-width="1"/>
<text x="336.7" y="604.5" font-size="9.2" text-anchor="end" fill="#111">0</text>
<line x1="337.3" y1="557.13" x2="342.7" y2="557.13" stroke="#222" stroke-width="1"/>
<text x="336.7" y="560.43" font-size="9.2" text-anchor="end" fill="#111">60</text>
<line x1="337.3" y1="513.06" x2="342.7" y2="513.06" stroke="#222" stroke-width="1"/>
<text x="336.7" y="516.36" font-size="9.2" text-anchor="end" fill="#111">120</text>
<line x1="337.3" y1="468.99" x2="342.7" y2="468.99" stroke="#222" stroke-width="1"/>
<text x="336.7" y="472.29" font-size="9.2" text-anchor="end" fill="#111">180</text>
<text x="371.2" y="466.4" font-size="9.4" text-anchor="middle" font-style="italic" fill="#111">PwecA</text>
<text x="427.4" y="466.4" font-size="9.4" text-anchor="middle" font-style="italic" fill="#111">PwecE</text>
<text transform="translate(316.9,534) rotate(-90)" text-anchor="middle" font-size="9.7" fill="#111">Miller units</text>
<text x="344.4" y="619.6" font-size="8.3" text-anchor="end" fill="#111">EcaR</text>
<line x1="357" y1="617" x2="359.6" y2="617" stroke="#111" stroke-width="0.9"/>
<line x1="381" y1="617" x2="385.6" y2="617" stroke="#111" stroke-width="0.9"/>
<line x1="383.3" y1="614.7" x2="383.3" y2="619.3" stroke="#111" stroke-width="0.9"/>
<line x1="413.3" y1="617" x2="415.9" y2="617" stroke="#111" stroke-width="0.9"/>
<line x1="436.7" y1="617" x2="441.3" y2="617" stroke="#111" stroke-width="0.9"/>
<line x1="439" y1="614.7" x2="439" y2="619.3" stroke="#111" stroke-width="0.9"/>
<rect x="473.6" y="465.8" width="209.8" height="163" fill="#fff" stroke="#8c8c8c" stroke-width="0.9"/>
<polygon points="482.56,473.55 479.7,475.2 476.84,473.55 476.84,470.25 479.7,468.6 482.56,470.25" fill="#6458cf" stroke="#3a2f90" stroke-width="0.5"/>
<text x="484.2" y="474.9" font-size="8.3" fill="#222">GlcNAc</text>
<polygon points="482.56,482.05 479.7,483.7 476.84,482.05 476.84,478.75 479.7,477.1 482.56,478.75" fill="#8ddfda" stroke="#5ab8b6" stroke-width="0.5"/>
<text x="484.2" y="483.4" font-size="8.3" fill="#222">ManNAc</text>
<polygon points="482.56,490.65 479.7,492.3 476.84,490.65 476.84,487.35 479.7,485.7 482.56,487.35" fill="#ab3484" stroke="#7a1d5c" stroke-width="0.5"/>
<text x="484.2" y="492" font-size="8.3" fill="#222">Fuc4NAc</text>
<polygon points="482.56,499.05 479.7,500.7 476.84,499.05 476.84,495.75 479.7,494.1 482.56,495.75" fill="#6d6d6d" stroke="#444" stroke-width="0.5"/>
<text x="484.2" y="500.4" font-size="8.3" fill="#222">Glucose</text>
<polygon points="482.56,508.05 479.7,509.7 476.84,508.05 476.84,504.75 479.7,503.1 482.56,504.75" fill="#eba640" stroke="#b07a20" stroke-width="0.5"/>
<text x="484.2" y="509.4" font-size="8.3" fill="#222">TDP-4-Keto-6-deoxy-D-Glc</text>
<rect x="474.2" y="525.8" width="208.6" height="22.1" fill="#f1f5fa"/>
<line x1="476.8" y1="526.8" x2="476.8" y2="546.9" stroke="#e2e9f2" stroke-width="0.6"/>
<line x1="478.4" y1="526.8" x2="478.4" y2="546.9" stroke="#e2e9f2" stroke-width="0.6"/>
<line x1="480" y1="526.8" x2="480" y2="546.9" stroke="#e2e9f2" stroke-width="0.6"/>
<line x1="481.6" y1="526.8" x2="481.6" y2="546.9" stroke="#e2e9f2" stroke-width="0.6"/>
<line x1="483.2" y1="526.8" x2="483.2" y2="546.9" stroke="#e2e9f2" stroke-width="0.6"/>
<line x1="484.8" y1="526.8" x2="484.8" y2="546.9" stroke="#e2e9f2" stroke-width="0.6"/>
<line x1="486.4" y1="526.8" x2="486.4" y2="546.9" stroke="#e2e9f2" stroke-width="0.6"/>
<line x1="488" y1="526.8" x2="488" y2="546.9" stroke="#e2e9f2" stroke-width="0.6"/>
<line x1="489.6" y1="526.8" x2="489.6" y2="546.9" stroke="#e2e9f2" stroke-width="0.6"/>
<line x1="491.2" y1="526.8" x2="491.2" y2="546.9" stroke="#e2e9f2" stroke-width="0.6"/>
<line x1="492.8" y1="526.8" x2="492.8" y2="546.9" stroke="#e2e9f2" stroke-width="0.6"/>
<line x1="494.4" y1="526.8" x2="494.4" y2="546.9" stroke="#e2e9f2" stroke-width="0.6"/>
<line x1="496" y1="526.8" x2="496" y2="546.9" stroke="#e2e9f2" stroke-width="0.6"/>
<line x1="497.6" y1="526.8" x2="497.6" y2="546.9" stroke="#e2e9f2" stroke-width="0.6"/>
<line x1="499.2" y1="526.8" x2="499.2" y2="546.9" stroke="#e2e9f2" stroke-width="0.6"/>
<line x1="500.8" y1="526.8" x2="500.8" y2="546.9" stroke="#e2e9f2" stroke-width="0.6"/>
<line x1="502.4" y1="526.8" x2="502.4" y2="546.9" stroke="#e2e9f2" stroke-width="0.6"/>
<line x1="504" y1="526.8" x2="504" y2="546.9" stroke="#e2e9f2" stroke-width="0.6"/>
<line x1="505.6" y1="526.8" x2="505.6" y2="546.9" stroke="#e2e9f2" stroke-width="0.6"/>
<line x1="507.2" y1="526.8" x2="507.2" y2="546.9" stroke="#e2e9f2" stroke-width="0.6"/>
<line x1="508.8" y1="526.8" x2="508.8" y2="546.9" stroke="#e2e9f2" stroke-width="0.6"/>
<line x1="510.4" y1="526.8" x2="510.4" y2="546.9" stroke="#e2e9f2" stroke-width="0.6"/>
<line x1="512" y1="526.8" x2="512" y2="546.9" stroke="#e2e9f2" stroke-width="0.6"/>
<line x1="513.6" y1="526.8" x2="513.6" y2="546.9" stroke="#e2e9f2" stroke-width="0.6"/>
<line x1="515.2" y1="526.8" x2="515.2" y2="546.9" stroke="#e2e9f2" stroke-width="0.6"/>
<line x1="516.8" y1="526.8" x2="516.8" y2="546.9" stroke="#e2e9f2" stroke-width="0.6"/>
<line x1="518.4" y1="526.8" x2="518.4" y2="546.9" stroke="#e2e9f2" stroke-width="0.6"/>
<line x1="520" y1="526.8" x2="520" y2="546.9" stroke="#e2e9f2" stroke-width="0.6"/>
<line x1="521.6" y1="526.8" x2="521.6" y2="546.9" stroke="#e2e9f2" stroke-width="0.6"/>
<line x1="523.2" y1="526.8" x2="523.2" y2="546.9" stroke="#e2e9f2" stroke-width="0.6"/>
<line x1="524.8" y1="526.8" x2="524.8" y2="546.9" stroke="#e2e9f2" stroke-width="0.6"/>
<line x1="526.4" y1="526.8" x2="526.4" y2="546.9" stroke="#e2e9f2" stroke-width="0.6"/>
<line x1="528" y1="526.8" x2="528" y2="546.9" stroke="#e2e9f2" stroke-width="0.6"/>
<line x1="529.6" y1="526.8" x2="529.6" y2="546.9" stroke="#e2e9f2" stroke-width="0.6"/>
<line x1="531.2" y1="526.8" x2="531.2" y2="546.9" stroke="#e2e9f2" stroke-width="0.6"/>
<line x1="532.8" y1="526.8" x2="532.8" y2="546.9" stroke="#e2e9f2" stroke-width="0.6"/>
<line x1="534.4" y1="526.8" x2="534.4" y2="546.9" stroke="#e2e9f2" stroke-width="0.6"/>
<line x1="536" y1="526.8" x2="536" y2="546.9" stroke="#e2e9f2" stroke-width="0.6"/>
<line x1="537.6" y1="526.8" x2="537.6" y2="546.9" stroke="#e2e9f2" stroke-width="0.6"/>
<line x1="539.2" y1="526.8" x2="539.2" y2="546.9" stroke="#e2e9f2" stroke-width="0.6"/>
<line x1="540.8" y1="526.8" x2="540.8" y2="546.9" stroke="#e2e9f2" stroke-width="0.6"/>
<line x1="542.4" y1="526.8" x2="542.4" y2="546.9" stroke="#e2e9f2" stroke-width="0.6"/>
<line x1="544" y1="526.8" x2="544" y2="546.9" stroke="#e2e9f2" stroke-width="0.6"/>
<line x1="545.6" y1="526.8" x2="545.6" y2="546.9" stroke="#e2e9f2" stroke-width="0.6"/>
<line x1="547.2" y1="526.8" x2="547.2" y2="546.9" stroke="#e2e9f2" stroke-width="0.6"/>
<line x1="548.8" y1="526.8" x2="548.8" y2="546.9" stroke="#e2e9f2" stroke-width="0.6"/>
<line x1="550.4" y1="526.8" x2="550.4" y2="546.9" stroke="#e2e9f2" stroke-width="0.6"/>
<line x1="552" y1="526.8" x2="552" y2="546.9" stroke="#e2e9f2" stroke-width="0.6"/>
<line x1="553.6" y1="526.8" x2="553.6" y2="546.9" stroke="#e2e9f2" stroke-width="0.6"/>
<line x1="555.2" y1="526.8" x2="555.2" y2="546.9" stroke="#e2e9f2" stroke-width="0.6"/>
<line x1="556.8" y1="526.8" x2="556.8" y2="546.9" stroke="#e2e9f2" stroke-width="0.6"/>
<line x1="558.4" y1="526.8" x2="558.4" y2="546.9" stroke="#e2e9f2" stroke-width="0.6"/>
<line x1="560" y1="526.8" x2="560" y2="546.9" stroke="#e2e9f2" stroke-width="0.6"/>
<line x1="561.6" y1="526.8" x2="561.6" y2="546.9" stroke="#e2e9f2" stroke-width="0.6"/>
<line x1="563.2" y1="526.8" x2="563.2" y2="546.9" stroke="#e2e9f2" stroke-width="0.6"/>
<line x1="564.8" y1="526.8" x2="564.8" y2="546.9" stroke="#e2e9f2" stroke-width="0.6"/>
<line x1="566.4" y1="526.8" x2="566.4" y2="546.9" stroke="#e2e9f2" stroke-width="0.6"/>
<line x1="568" y1="526.8" x2="568" y2="546.9" stroke="#e2e9f2" stroke-width="0.6"/>
<line x1="569.6" y1="526.8" x2="569.6" y2="546.9" stroke="#e2e9f2" stroke-width="0.6"/>
<line x1="571.2" y1="526.8" x2="571.2" y2="546.9" stroke="#e2e9f2" stroke-width="0.6"/>
<line x1="572.8" y1="526.8" x2="572.8" y2="546.9" stroke="#e2e9f2" stroke-width="0.6"/>
<line x1="574.4" y1="526.8" x2="574.4" y2="546.9" stroke="#e2e9f2" stroke-width="0.6"/>
<line x1="576" y1="526.8" x2="576" y2="546.9" stroke="#e2e9f2" stroke-width="0.6"/>
<line x1="577.6" y1="526.8" x2="577.6" y2="546.9" stroke="#e2e9f2" stroke-width="0.6"/>
<line x1="579.2" y1="526.8" x2="579.2" y2="546.9" stroke="#e2e9f2" stroke-width="0.6"/>
<line x1="580.8" y1="526.8" x2="580.8" y2="546.9" stroke="#e2e9f2" stroke-width="0.6"/>
<line x1="582.4" y1="526.8" x2="582.4" y2="546.9" stroke="#e2e9f2" stroke-width="0.6"/>
<line x1="584" y1="526.8" x2="584" y2="546.9" stroke="#e2e9f2" stroke-width="0.6"/>
<line x1="585.6" y1="526.8" x2="585.6" y2="546.9" stroke="#e2e9f2" stroke-width="0.6"/>
<line x1="587.2" y1="526.8" x2="587.2" y2="546.9" stroke="#e2e9f2" stroke-width="0.6"/>
<line x1="588.8" y1="526.8" x2="588.8" y2="546.9" stroke="#e2e9f2" stroke-width="0.6"/>
<line x1="590.4" y1="526.8" x2="590.4" y2="546.9" stroke="#e2e9f2" stroke-width="0.6"/>
<line x1="592" y1="526.8" x2="592" y2="546.9" stroke="#e2e9f2" stroke-width="0.6"/>
<line x1="593.6" y1="526.8" x2="593.6" y2="546.9" stroke="#e2e9f2" stroke-width="0.6"/>
<line x1="595.2" y1="526.8" x2="595.2" y2="546.9" stroke="#e2e9f2" stroke-width="0.6"/>
<line x1="596.8" y1="526.8" x2="596.8" y2="546.9" stroke="#e2e9f2" stroke-width="0.6"/>
<line x1="598.4" y1="526.8" x2="598.4" y2="546.9" stroke="#e2e9f2" stroke-width="0.6"/>
<line x1="600" y1="526.8" x2="600" y2="546.9" stroke="#e2e9f2" stroke-width="0.6"/>
<line x1="601.6" y1="526.8" x2="601.6" y2="546.9" stroke="#e2e9f2" stroke-width="0.6"/>
<line x1="603.2" y1="526.8" x2="603.2" y2="546.9" stroke="#e2e9f2" stroke-width="0.6"/>
<line x1="604.8" y1="526.8" x2="604.8" y2="546.9" stroke="#e2e9f2" stroke-width="0.6"/>
<line x1="606.4" y1="526.8" x2="606.4" y2="546.9" stroke="#e2e9f2" stroke-width="0.6"/>
<line x1="608" y1="526.8" x2="608" y2="546.9" stroke="#e2e9f2" stroke-width="0.6"/>
<line x1="609.6" y1="526.8" x2="609.6" y2="546.9" stroke="#e2e9f2" stroke-width="0.6"/>
<line x1="611.2" y1="526.8" x2="611.2" y2="546.9" stroke="#e2e9f2" stroke-width="0.6"/>
<line x1="612.8" y1="526.8" x2="612.8" y2="546.9" stroke="#e2e9f2" stroke-width="0.6"/>
<line x1="614.4" y1="526.8" x2="614.4" y2="546.9" stroke="#e2e9f2" stroke-width="0.6"/>
<line x1="616" y1="526.8" x2="616" y2="546.9" stroke="#e2e9f2" stroke-width="0.6"/>
<line x1="617.6" y1="526.8" x2="617.6" y2="546.9" stroke="#e2e9f2" stroke-width="0.6"/>
<line x1="619.2" y1="526.8" x2="619.2" y2="546.9" stroke="#e2e9f2" stroke-width="0.6"/>
<line x1="620.8" y1="526.8" x2="620.8" y2="546.9" stroke="#e2e9f2" stroke-width="0.6"/>
<line x1="622.4" y1="526.8" x2="622.4" y2="546.9" stroke="#e2e9f2" stroke-width="0.6"/>
<line x1="624" y1="526.8" x2="624" y2="546.9" stroke="#e2e9f2" stroke-width="0.6"/>
<line x1="625.6" y1="526.8" x2="625.6" y2="546.9" stroke="#e2e9f2" stroke-width="0.6"/>
<line x1="627.2" y1="526.8" x2="627.2" y2="546.9" stroke="#e2e9f2" stroke-width="0.6"/>
<line x1="628.8" y1="526.8" x2="628.8" y2="546.9" stroke="#e2e9f2" stroke-width="0.6"/>
<line x1="630.4" y1="526.8" x2="630.4" y2="546.9" stroke="#e2e9f2" stroke-width="0.6"/>
<line x1="632" y1="526.8" x2="632" y2="546.9" stroke="#e2e9f2" stroke-width="0.6"/>
<line x1="633.6" y1="526.8" x2="633.6" y2="546.9" stroke="#e2e9f2" stroke-width="0.6"/>
<line x1="635.2" y1="526.8" x2="635.2" y2="546.9" stroke="#e2e9f2" stroke-width="0.6"/>
<line x1="636.8" y1="526.8" x2="636.8" y2="546.9" stroke="#e2e9f2" stroke-width="0.6"/>
<line x1="638.4" y1="526.8" x2="638.4" y2="546.9" stroke="#e2e9f2" stroke-width="0.6"/>
<line x1="640" y1="526.8" x2="640" y2="546.9" stroke="#e2e9f2" stroke-width="0.6"/>
<line x1="641.6" y1="526.8" x2="641.6" y2="546.9" stroke="#e2e9f2" stroke-width="0.6"/>
<line x1="643.2" y1="526.8" x2="643.2" y2="546.9" stroke="#e2e9f2" stroke-width="0.6"/>
<line x1="644.8" y1="526.8" x2="644.8" y2="546.9" stroke="#e2e9f2" stroke-width="0.6"/>
<line x1="646.4" y1="526.8" x2="646.4" y2="546.9" stroke="#e2e9f2" stroke-width="0.6"/>
<line x1="648" y1="526.8" x2="648" y2="546.9" stroke="#e2e9f2" stroke-width="0.6"/>
<line x1="649.6" y1="526.8" x2="649.6" y2="546.9" stroke="#e2e9f2" stroke-width="0.6"/>
<line x1="651.2" y1="526.8" x2="651.2" y2="546.9" stroke="#e2e9f2" stroke-width="0.6"/>
<line x1="652.8" y1="526.8" x2="652.8" y2="546.9" stroke="#e2e9f2" stroke-width="0.6"/>
<line x1="654.4" y1="526.8" x2="654.4" y2="546.9" stroke="#e2e9f2" stroke-width="0.6"/>
<line x1="656" y1="526.8" x2="656" y2="546.9" stroke="#e2e9f2" stroke-width="0.6"/>
<line x1="657.6" y1="526.8" x2="657.6" y2="546.9" stroke="#e2e9f2" stroke-width="0.6"/>
<line x1="659.2" y1="526.8" x2="659.2" y2="546.9" stroke="#e2e9f2" stroke-width="0.6"/>
<line x1="660.8" y1="526.8" x2="660.8" y2="546.9" stroke="#e2e9f2" stroke-width="0.6"/>
<line x1="662.4" y1="526.8" x2="662.4" y2="546.9" stroke="#e2e9f2" stroke-width="0.6"/>
<line x1="664" y1="526.8" x2="664" y2="546.9" stroke="#e2e9f2" stroke-width="0.6"/>
<line x1="665.6" y1="526.8" x2="665.6" y2="546.9" stroke="#e2e9f2" stroke-width="0.6"/>
<line x1="667.2" y1="526.8" x2="667.2" y2="546.9" stroke="#e2e9f2" stroke-width="0.6"/>
<line x1="668.8" y1="526.8" x2="668.8" y2="546.9" stroke="#e2e9f2" stroke-width="0.6"/>
<line x1="670.4" y1="526.8" x2="670.4" y2="546.9" stroke="#e2e9f2" stroke-width="0.6"/>
<line x1="672" y1="526.8" x2="672" y2="546.9" stroke="#e2e9f2" stroke-width="0.6"/>
<line x1="673.6" y1="526.8" x2="673.6" y2="546.9" stroke="#e2e9f2" stroke-width="0.6"/>
<line x1="675.2" y1="526.8" x2="675.2" y2="546.9" stroke="#e2e9f2" stroke-width="0.6"/>
<line x1="676.8" y1="526.8" x2="676.8" y2="546.9" stroke="#e2e9f2" stroke-width="0.6"/>
<line x1="678.4" y1="526.8" x2="678.4" y2="546.9" stroke="#e2e9f2" stroke-width="0.6"/>
<line x1="680" y1="526.8" x2="680" y2="546.9" stroke="#e2e9f2" stroke-width="0.6"/>
<line x1="681.6" y1="526.8" x2="681.6" y2="546.9" stroke="#e2e9f2" stroke-width="0.6"/>
<circle cx="476.6" cy="526.2" r="2.0" fill="#d3dbe4"/>
<circle cx="476.6" cy="547.5" r="2.0" fill="#d3dbe4"/>
<circle cx="481.15" cy="526.2" r="2.0" fill="#d3dbe4"/>
<circle cx="481.15" cy="547.5" r="2.0" fill="#d3dbe4"/>
<circle cx="485.7" cy="526.2" r="2.0" fill="#d3dbe4"/>
<circle cx="485.7" cy="547.5" r="2.0" fill="#d3dbe4"/>
<circle cx="490.25" cy="526.2" r="2.0" fill="#d3dbe4"/>
<circle cx="490.25" cy="547.5" r="2.0" fill="#d3dbe4"/>
<circle cx="494.8" cy="526.2" r="2.0" fill="#d3dbe4"/>
<circle cx="494.8" cy="547.5" r="2.0" fill="#d3dbe4"/>
<circle cx="499.35" cy="526.2" r="2.0" fill="#d3dbe4"/>
<circle cx="499.35" cy="547.5" r="2.0" fill="#d3dbe4"/>
<circle cx="503.9" cy="526.2" r="2.0" fill="#d3dbe4"/>
<circle cx="503.9" cy="547.5" r="2.0" fill="#d3dbe4"/>
<circle cx="508.45" cy="526.2" r="2.0" fill="#d3dbe4"/>
<circle cx="508.45" cy="547.5" r="2.0" fill="#d3dbe4"/>
<circle cx="513" cy="526.2" r="2.0" fill="#d3dbe4"/>
<circle cx="513" cy="547.5" r="2.0" fill="#d3dbe4"/>
<circle cx="517.55" cy="526.2" r="2.0" fill="#d3dbe4"/>
<circle cx="517.55" cy="547.5" r="2.0" fill="#d3dbe4"/>
<circle cx="522.1" cy="526.2" r="2.0" fill="#d3dbe4"/>
<circle cx="522.1" cy="547.5" r="2.0" fill="#d3dbe4"/>
<circle cx="526.65" cy="526.2" r="2.0" fill="#d3dbe4"/>
<circle cx="526.65" cy="547.5" r="2.0" fill="#d3dbe4"/>
<circle cx="531.2" cy="526.2" r="2.0" fill="#d3dbe4"/>
<circle cx="531.2" cy="547.5" r="2.0" fill="#d3dbe4"/>
<circle cx="535.75" cy="526.2" r="2.0" fill="#d3dbe4"/>
<circle cx="535.75" cy="547.5" r="2.0" fill="#d3dbe4"/>
<circle cx="540.3" cy="526.2" r="2.0" fill="#d3dbe4"/>
<circle cx="540.3" cy="547.5" r="2.0" fill="#d3dbe4"/>
<circle cx="544.85" cy="526.2" r="2.0" fill="#d3dbe4"/>
<circle cx="544.85" cy="547.5" r="2.0" fill="#d3dbe4"/>
<circle cx="549.4" cy="526.2" r="2.0" fill="#d3dbe4"/>
<circle cx="549.4" cy="547.5" r="2.0" fill="#d3dbe4"/>
<circle cx="553.95" cy="526.2" r="2.0" fill="#d3dbe4"/>
<circle cx="553.95" cy="547.5" r="2.0" fill="#d3dbe4"/>
<circle cx="558.5" cy="526.2" r="2.0" fill="#d3dbe4"/>
<circle cx="558.5" cy="547.5" r="2.0" fill="#d3dbe4"/>
<circle cx="563.05" cy="526.2" r="2.0" fill="#d3dbe4"/>
<circle cx="563.05" cy="547.5" r="2.0" fill="#d3dbe4"/>
<circle cx="567.6" cy="526.2" r="2.0" fill="#d3dbe4"/>
<circle cx="567.6" cy="547.5" r="2.0" fill="#d3dbe4"/>
<circle cx="572.15" cy="526.2" r="2.0" fill="#d3dbe4"/>
<circle cx="572.15" cy="547.5" r="2.0" fill="#d3dbe4"/>
<circle cx="576.7" cy="526.2" r="2.0" fill="#d3dbe4"/>
<circle cx="576.7" cy="547.5" r="2.0" fill="#d3dbe4"/>
<circle cx="581.25" cy="526.2" r="2.0" fill="#d3dbe4"/>
<circle cx="581.25" cy="547.5" r="2.0" fill="#d3dbe4"/>
<circle cx="585.8" cy="526.2" r="2.0" fill="#d3dbe4"/>
<circle cx="585.8" cy="547.5" r="2.0" fill="#d3dbe4"/>
<circle cx="590.35" cy="526.2" r="2.0" fill="#d3dbe4"/>
<circle cx="590.35" cy="547.5" r="2.0" fill="#d3dbe4"/>
<circle cx="594.9" cy="526.2" r="2.0" fill="#d3dbe4"/>
<circle cx="594.9" cy="547.5" r="2.0" fill="#d3dbe4"/>
<circle cx="599.45" cy="526.2" r="2.0" fill="#d3dbe4"/>
<circle cx="599.45" cy="547.5" r="2.0" fill="#d3dbe4"/>
<circle cx="604" cy="526.2" r="2.0" fill="#d3dbe4"/>
<circle cx="604" cy="547.5" r="2.0" fill="#d3dbe4"/>
<circle cx="608.55" cy="526.2" r="2.0" fill="#d3dbe4"/>
<circle cx="608.55" cy="547.5" r="2.0" fill="#d3dbe4"/>
<circle cx="613.1" cy="526.2" r="2.0" fill="#d3dbe4"/>
<circle cx="613.1" cy="547.5" r="2.0" fill="#d3dbe4"/>
<circle cx="617.65" cy="526.2" r="2.0" fill="#d3dbe4"/>
<circle cx="617.65" cy="547.5" r="2.0" fill="#d3dbe4"/>
<circle cx="622.2" cy="526.2" r="2.0" fill="#d3dbe4"/>
<circle cx="622.2" cy="547.5" r="2.0" fill="#d3dbe4"/>
<circle cx="626.75" cy="526.2" r="2.0" fill="#d3dbe4"/>
<circle cx="626.75" cy="547.5" r="2.0" fill="#d3dbe4"/>
<circle cx="631.3" cy="526.2" r="2.0" fill="#d3dbe4"/>
<circle cx="631.3" cy="547.5" r="2.0" fill="#d3dbe4"/>
<circle cx="635.85" cy="526.2" r="2.0" fill="#d3dbe4"/>
<circle cx="635.85" cy="547.5" r="2.0" fill="#d3dbe4"/>
<circle cx="640.4" cy="526.2" r="2.0" fill="#d3dbe4"/>
<circle cx="640.4" cy="547.5" r="2.0" fill="#d3dbe4"/>
<circle cx="644.95" cy="526.2" r="2.0" fill="#d3dbe4"/>
<circle cx="644.95" cy="547.5" r="2.0" fill="#d3dbe4"/>
<circle cx="649.5" cy="526.2" r="2.0" fill="#d3dbe4"/>
<circle cx="649.5" cy="547.5" r="2.0" fill="#d3dbe4"/>
<circle cx="654.05" cy="526.2" r="2.0" fill="#d3dbe4"/>
<circle cx="654.05" cy="547.5" r="2.0" fill="#d3dbe4"/>
<circle cx="658.6" cy="526.2" r="2.0" fill="#d3dbe4"/>
<circle cx="658.6" cy="547.5" r="2.0" fill="#d3dbe4"/>
<circle cx="663.15" cy="526.2" r="2.0" fill="#d3dbe4"/>
<circle cx="663.15" cy="547.5" r="2.0" fill="#d3dbe4"/>
<circle cx="667.7" cy="526.2" r="2.0" fill="#d3dbe4"/>
<circle cx="667.7" cy="547.5" r="2.0" fill="#d3dbe4"/>
<circle cx="672.25" cy="526.2" r="2.0" fill="#d3dbe4"/>
<circle cx="672.25" cy="547.5" r="2.0" fill="#d3dbe4"/>
<circle cx="676.8" cy="526.2" r="2.0" fill="#d3dbe4"/>
<circle cx="676.8" cy="547.5" r="2.0" fill="#d3dbe4"/>
<circle cx="681.35" cy="526.2" r="2.0" fill="#d3dbe4"/>
<circle cx="681.35" cy="547.5" r="2.0" fill="#d3dbe4"/>
<rect x="478.5" y="528.6" width="16.9" height="13.2" rx="2" fill="#f4f7fc" stroke="#7d97cf" stroke-width="0.9"/>
<text x="487" y="538.9" font-size="9.6" text-anchor="middle" fill="#222">IM</text>
<text x="514.1" y="535.5" font-size="9.3" text-anchor="middle" font-style="italic" fill="#111">wecA</text>
<line x1="505.3" y1="539.7" x2="520" y2="539.7" stroke="#222" stroke-width="2"/>
<polygon points="519.5,536 525.5,539.7 519.5,543.4" fill="#222"/>
<text x="548.3" y="535.5" font-size="9.3" text-anchor="middle" font-style="italic" fill="#3d8ff0">wecG</text>
<line x1="539.4" y1="539.7" x2="553.8" y2="539.7" stroke="#222" stroke-width="2"/>
<polygon points="553.3,536 559.3,539.7 553.3,543.4" fill="#222"/>
<text x="582.2" y="535.5" font-size="9.3" text-anchor="middle" font-style="italic" fill="#3d8ff0">wecF</text>
<line x1="573.4" y1="539.7" x2="587.3" y2="539.7" stroke="#222" stroke-width="2"/>
<polygon points="586.8,536 592.8,539.7 586.8,543.4" fill="#222"/>
<text x="612" y="535.5" font-size="9.3" text-anchor="middle" font-style="italic" fill="#3d8ff0">wzxE</text>
<line x1="603.2" y1="539.7" x2="617" y2="539.7" stroke="#222" stroke-width="2"/>
<polygon points="616.5,536 622.5,539.7 616.5,543.4" fill="#222"/>
<text x="646.8" y="525.4" font-size="9.3" text-anchor="middle" font-style="italic" fill="#3d8ff0">wzyE,</text>
<text x="646.8" y="534.6" font-size="9.3" text-anchor="middle" font-style="italic" fill="#3d8ff0">wzzE</text>
<line x1="638" y1="539.7" x2="651.9" y2="539.7" stroke="#222" stroke-width="2"/>
<polygon points="651.4,536 657.4,539.7 651.4,543.4" fill="#222"/>
<line x1="532.3" y1="537.5" x2="532.3" y2="556" stroke="#a8a8a8" stroke-width="0.7" stroke-dasharray="0.7,0.7"/>
<circle cx="532.3" cy="551.6" r="1.35" fill="#8e8e8e"/>
<circle cx="532.3" cy="554.6" r="1.35" fill="#8e8e8e"/>
<circle cx="532.3" cy="557.4" r="1.35" fill="#8e8e8e"/>
<polygon points="535.85,564.25 532.3,566.3 528.75,564.25 528.75,560.15 532.3,558.1 535.85,560.15" fill="#6458cf" stroke="#3a2f90" stroke-width="0.55"/>
<line x1="566" y1="537.5" x2="566" y2="556" stroke="#a8a8a8" stroke-width="0.7" stroke-dasharray="0.7,0.7"/>
<circle cx="566" cy="551.6" r="1.35" fill="#8e8e8e"/>
<circle cx="566" cy="554.6" r="1.35" fill="#8e8e8e"/>
<circle cx="566" cy="557.4" r="1.35" fill="#8e8e8e"/>
<polygon points="569.55,564.25 566,566.3 562.45,564.25 562.45,560.15 566,558.1 569.55,560.15" fill="#6458cf" stroke="#3a2f90" stroke-width="0.55"/>
<polygon points="569.55,573 566,575.05 562.45,573 562.45,568.9 566,566.85 569.55,568.9" fill="#8ddfda" stroke="#5ab8b6" stroke-width="0.55"/>
<line x1="598.2" y1="537.5" x2="598.2" y2="556" stroke="#a8a8a8" stroke-width="0.7" stroke-dasharray="0.7,0.7"/>
<circle cx="598.2" cy="551.6" r="1.35" fill="#8e8e8e"/>
<circle cx="598.2" cy="554.6" r="1.35" fill="#8e8e8e"/>
<circle cx="598.2" cy="557.4" r="1.35" fill="#8e8e8e"/>
<polygon points="601.75,564.25 598.2,566.3 594.65,564.25 594.65,560.15 598.2,558.1 601.75,560.15" fill="#6458cf" stroke="#3a2f90" stroke-width="0.55"/>
<polygon points="601.75,573 598.2,575.05 594.65,573 594.65,568.9 598.2,566.85 601.75,568.9" fill="#8ddfda" stroke="#5ab8b6" stroke-width="0.55"/>
<polygon points="601.75,581.75 598.2,583.8 594.65,581.75 594.65,577.65 598.2,575.6 601.75,577.65" fill="#ab3484" stroke="#7a1d5c" stroke-width="0.55"/>
<line x1="629.6" y1="514" x2="629.6" y2="535" stroke="#a8a8a8" stroke-width="0.7" stroke-dasharray="0.7,0.7"/>
<circle cx="629.6" cy="516.6" r="1.35" fill="#8e8e8e"/>
<circle cx="629.6" cy="520.8" r="1.35" fill="#8e8e8e"/>
<polygon points="633.15,494.65 629.6,496.7 626.05,494.65 626.05,490.55 629.6,488.5 633.15,490.55" fill="#ab3484" stroke="#7a1d5c" stroke-width="0.55"/>
<polygon points="633.15,503.45 629.6,505.5 626.05,503.45 626.05,499.35 629.6,497.3 633.15,499.35" fill="#8ddfda" stroke="#5ab8b6" stroke-width="0.55"/>
<polygon points="633.15,512.25 629.6,514.3 626.05,512.25 626.05,508.15 629.6,506.1 633.15,508.15" fill="#6458cf" stroke="#3a2f90" stroke-width="0.55"/>
<line x1="667.4" y1="514" x2="667.4" y2="535" stroke="#a8a8a8" stroke-width="0.7" stroke-dasharray="0.7,0.7"/>
<circle cx="667.4" cy="516.6" r="1.35" fill="#8e8e8e"/>
<circle cx="667.4" cy="520.8" r="1.35" fill="#8e8e8e"/>
<polygon points="670.95,494.65 667.4,496.7 663.85,494.65 663.85,490.55 667.4,488.5 670.95,490.55" fill="#ab3484" stroke="#7a1d5c" stroke-width="0.55"/>
<polygon points="670.95,503.45 667.4,505.5 663.85,503.45 663.85,499.35 667.4,497.3 670.95,499.35" fill="#8ddfda" stroke="#5ab8b6" stroke-width="0.55"/>
<polygon points="670.95,512.25 667.4,514.3 663.85,512.25 663.85,508.15 667.4,506.1 670.95,508.15" fill="#6458cf" stroke="#3a2f90" stroke-width="0.55"/>
<path d="M661.6,489 Q659.4,489 659.4,491.5 L659.4,510.5 Q659.4,513 661.6,513" fill="none" stroke="#666" stroke-width="0.7"/>
<path d="M673.2,489 Q675.4,489 675.4,491.5 L675.4,510.5 Q675.4,513 673.2,513" fill="none" stroke="#666" stroke-width="0.7"/>
<text x="677.5" y="512.2" font-size="4.5" fill="#444">n</text>
<rect x="475.8" y="581" width="118.5" height="45.6" rx="5" fill="#fff" stroke="#e2e2e2" stroke-width="0.8"/>
<polygon points="499.72,596.5 496.6,598.3 493.48,596.5 493.48,592.9 496.6,591.1 499.72,592.9" fill="#6458cf" stroke="#3a2f90" stroke-width="0.55"/>
<line x1="503.2" y1="594.7" x2="517.3" y2="594.7" stroke="#222" stroke-width="2"/>
<polygon points="516.8,591 522.8,594.7 516.8,598.4" fill="#222"/>
<line x1="527.9" y1="594.7" x2="542.3" y2="594.7" stroke="#222" stroke-width="2"/>
<polygon points="541.8,591 547.8,594.7 541.8,598.4" fill="#222"/>
<polygon points="556.62,596.5 553.5,598.3 550.38,596.5 550.38,592.9 553.5,591.1 556.62,592.9" fill="#8ddfda" stroke="#5ab8b6" stroke-width="0.55"/>
<text x="511.4" y="589.4" font-size="9.3" text-anchor="middle" font-style="italic" fill="#ee3030">wecB</text>
<text x="536.4" y="589.4" font-size="9.3" text-anchor="middle" font-style="italic" fill="#ee3030">wecC</text>
<polygon points="486.82,622.1 483.7,623.9 480.58,622.1 480.58,618.5 483.7,616.7 486.82,618.5" fill="#6d6d6d" stroke="#444" stroke-width="0.55"/>
<line x1="488" y1="620.3" x2="502.1" y2="620.3" stroke="#222" stroke-width="2"/>
<polygon points="501.6,616.6 507.6,620.3 501.6,624" fill="#222"/>
<line x1="509.9" y1="620.3" x2="523.7" y2="620.3" stroke="#222" stroke-width="2"/>
<polygon points="523.2,616.6 529.2,620.3 523.2,624" fill="#222"/>
<polygon points="537.62,622.1 534.5,623.9 531.38,622.1 531.38,618.5 534.5,616.7 537.62,618.5" fill="#eba640" stroke="#b07a20" stroke-width="0.55"/>
<line x1="540.2" y1="620.3" x2="554.6" y2="620.3" stroke="#222" stroke-width="2"/>
<polygon points="554.1,616.6 560.1,620.3 554.1,624" fill="#222"/>
<line x1="564.3" y1="620.3" x2="578" y2="620.3" stroke="#222" stroke-width="2"/>
<polygon points="577.5,616.6 583.5,620.3 577.5,624" fill="#222"/>
<polygon points="592.32,622.1 589.2,623.9 586.08,622.1 586.08,618.5 589.2,616.7 592.32,618.5" fill="#ab3484" stroke="#7a1d5c" stroke-width="0.55"/>
<text x="497.3" y="614.7" font-size="9.3" text-anchor="middle" font-style="italic" fill="#ee3030">rffH</text>
<text x="518.7" y="614.7" font-size="9.3" text-anchor="middle" font-style="italic" fill="#ee3030">rffG</text>
<text x="549.3" y="614.7" font-size="9.3" text-anchor="middle" font-style="italic" fill="#3d8ff0">wecE</text>
<text x="573.6" y="614.7" font-size="9.3" text-anchor="middle" font-style="italic" fill="#ee3030">wecD</text>
<text x="477.3" y="639.5" font-size="8.15" fill="#ee3030">Red: Up-regulated by <tspan font-style="italic">mcr-1</tspan>,</text>
<text x="682.2" y="639.5" font-size="8.15" text-anchor="end" fill="#3d8ff0">Blue: Up-regulated by <tspan font-style="italic">ecaR</tspan></text>
<clipPath id="clipH"><rect x="61.1" y="647" width="140.3" height="156.8"/></clipPath>
<rect x="61.1" y="647" width="140.3" height="156.8" fill="#090909"/>
<g clip-path="url(#clipH)">
<ellipse cx="78" cy="649" rx="12" ry="3.5" fill="#222" filter="url(#b16)"/>
<ellipse cx="78" cy="795" rx="11" ry="5" fill="#1c1c1c" filter="url(#b22)"/>
<ellipse cx="113" cy="649" rx="12" ry="3.5" fill="#222" filter="url(#b16)"/>
<ellipse cx="113" cy="795" rx="11" ry="5" fill="#1c1c1c" filter="url(#b22)"/>
<linearGradient id="g1360_6600" x1="0" y1="0" x2="0" y2="1"><stop offset="0" stop-color="#8a8a8a"/><stop offset="0.08" stop-color="#6e6e6e"/><stop offset="0.17" stop-color="#505050"/><stop offset="0.26" stop-color="#383838"/><stop offset="0.38" stop-color="#2c2c2c"/><stop offset="0.52" stop-color="#282828"/><stop offset="1" stop-color="#282828"/></linearGradient>
<rect x="136" y="660" width="21" height="143.8" fill="url(#g1360_6600)" filter="url(#b22)"/>
<linearGradient id="g1710_6600" x1="0" y1="0" x2="0" y2="1"><stop offset="0" stop-color="#8a8a8a"/><stop offset="0.08" stop-color="#6e6e6e"/><stop offset="0.17" stop-color="#505050"/><stop offset="0.26" stop-color="#383838"/><stop offset="0.38" stop-color="#2c2c2c"/><stop offset="0.52" stop-color="#282828"/><stop offset="1" stop-color="#282828"/></linearGradient>
<rect x="171" y="660" width="20.5" height="143.8" fill="url(#g1710_6600)" filter="url(#b22)"/>
<rect x="135.6" y="645" width="21.8" height="9" fill="#707070" filter="url(#b12)"/>
<rect x="170.4" y="645" width="21.4" height="12" fill="#666666" filter="url(#b12)"/>
<path d="M135.6,651.2 Q142.14,654.6 146.5,654.6 Q150.86,654.6 157.4,651.2 L157.4,671.5 Q150.86,666.5 146.5,666.5 Q142.14,666.5 135.6,671.5 Z" fill="#dcdcdc" filter="url(#b16)"/>
<path d="M170.4,652.8 Q176.88,658.6 181.2,658.6 Q185.52,658.6 192,652.8 L192,674 Q185.52,666.5 181.2,666.5 Q176.88,666.5 170.4,674 Z" fill="#dcdcdc" filter="url(#b16)"/>
<path d="M136.4,651.8 Q142.46,655 146.5,655 Q150.54,655 156.6,651.8 L156.6,670.5 Q150.54,665.8 146.5,665.8 Q142.46,665.8 136.4,670.5 Z" fill="#ffffff" filter="url(#b08)"/>
<path d="M171.2,653.4 Q177.2,658.8 181.2,658.8 Q185.2,658.8 191.2,653.4 L191.2,673 Q185.2,666 181.2,666 Q177.2,666 171.2,673 Z" fill="#ffffff" filter="url(#b08)"/>
<linearGradient id="g1364_7320" x1="0" y1="0" x2="0" y2="1"><stop offset="0" stop-color="#a0a0a0"/><stop offset="0.32" stop-color="#8a8a8a"/><stop offset="1" stop-color="#626262"/></linearGradient>
<rect x="136.4" y="732" width="20.4" height="40" fill="url(#g1364_7320)" filter="url(#b16)"/>
<path d="M139.66,728 C141.05,743 144.17,749 146.6,749 C149.03,749 152.15,743 153.54,728 Z" fill="#2a2a2a" filter="url(#b16)"/>
<linearGradient id="g1366_7675" x1="0" y1="0" x2="0" y2="1"><stop offset="0" stop-color="#868686"/><stop offset="0.32" stop-color="#6c6c6c"/><stop offset="1" stop-color="#444444"/></linearGradient>
<rect x="136.6" y="767.5" width="20" height="36.5" fill="url(#g1366_7675)" filter="url(#b16)"/>
<path d="M139.8,763.5 C141.16,773 144.22,779 146.6,779 C148.98,779 152.04,773 153.4,763.5 Z" fill="#3a3a3a" filter="url(#b16)"/>
<linearGradient id="g1712_7425" x1="0" y1="0" x2="0" y2="1"><stop offset="0" stop-color="#8c8c8c"/><stop offset="0.32" stop-color="#787878"/><stop offset="1" stop-color="#565656"/></linearGradient>
<rect x="171.2" y="742.5" width="20.4" height="35.5" fill="url(#g1712_7425)" filter="url(#b16)"/>
<path d="M174.46,738.5 C175.85,753.5 178.97,759.5 181.4,759.5 C183.83,759.5 186.95,753.5 188.34,738.5 Z" fill="#2a2a2a" filter="url(#b16)"/>
<linearGradient id="g1714_7740" x1="0" y1="0" x2="0" y2="1"><stop offset="0" stop-color="#7a7a7a"/><stop offset="0.32" stop-color="#646464"/><stop offset="1" stop-color="#444444"/></linearGradient>
<rect x="171.4" y="774" width="20" height="30" fill="url(#g1714_7740)" filter="url(#b16)"/>
<path d="M174.6,770 C175.96,780 179.02,786 181.4,786 C183.78,786 186.84,780 188.2,770 Z" fill="#383838" filter="url(#b16)"/>
<circle cx="74" cy="760" r="0.55" fill="#555"/>
<circle cx="100" cy="688" r="0.55" fill="#555"/>
<circle cx="113" cy="744" r="0.55" fill="#555"/>
<circle cx="128" cy="733" r="0.55" fill="#555"/>
<circle cx="92" cy="722" r="0.55" fill="#555"/>
<circle cx="147" cy="794" r="0.55" fill="#555"/>
<circle cx="181" cy="748" r="0.55" fill="#555"/>
<circle cx="159" cy="743" r="0.55" fill="#555"/>
<circle cx="164" cy="681" r="0.55" fill="#555"/>
<circle cx="163" cy="696" r="0.55" fill="#555"/>
<circle cx="119" cy="704" r="0.55" fill="#555"/>
<circle cx="139" cy="669" r="0.55" fill="#555"/>
<circle cx="196" cy="714" r="0.55" fill="#555"/>
<circle cx="201" cy="802" r="0.55" fill="#555"/>
<circle cx="88" cy="780" r="0.55" fill="#555"/>
</g>
<text transform="translate(57.4,664) rotate(-90)" text-anchor="middle" font-size="10.1" fill="#1a1a1a">HMW</text>
<text transform="translate(57.4,724) rotate(-90)" text-anchor="middle" font-size="10.1" fill="#1a1a1a">MMW</text>
<text transform="translate(57.4,792.2) rotate(-90)" text-anchor="middle" font-size="10.1" fill="#1a1a1a">LMW</text>
<text x="18.6" y="816.4" font-size="10" fill="#222">p<tspan font-style="italic">mcr-1</tspan></text>
<text x="18.6" y="830.1" font-size="10" fill="#222">p<tspan font-style="italic">ecaR</tspan></text>
<text x="18.6" y="843.7" font-size="10" fill="#222">p<tspan font-style="italic">wecE</tspan></text>
<line x1="75.6" y1="812.6" x2="81" y2="812.6" stroke="#222" stroke-width="1"/>
<line x1="109.5" y1="812.6" x2="114.9" y2="812.6" stroke="#222" stroke-width="1"/>
<line x1="144.8" y1="812.6" x2="150.2" y2="812.6" stroke="#222" stroke-width="1"/>
<line x1="147.5" y1="809.9" x2="147.5" y2="815.3" stroke="#222" stroke-width="1"/>
<line x1="179.3" y1="812.6" x2="184.7" y2="812.6" stroke="#222" stroke-width="1"/>
<line x1="182" y1="809.9" x2="182" y2="815.3" stroke="#222" stroke-width="1"/>
<line x1="75.6" y1="826.3" x2="81" y2="826.3" stroke="#222" stroke-width="1"/>
<line x1="109.5" y1="826.3" x2="114.9" y2="826.3" stroke="#222" stroke-width="1"/>
<line x1="144.8" y1="826.3" x2="150.2" y2="826.3" stroke="#222" stroke-width="1"/>
<line x1="179.3" y1="826.3" x2="184.7" y2="826.3" stroke="#222" stroke-width="1"/>
<line x1="182" y1="823.6" x2="182" y2="829" stroke="#222" stroke-width="1"/>
<line x1="75.6" y1="839.9" x2="81" y2="839.9" stroke="#222" stroke-width="1"/>
<line x1="109.5" y1="839.9" x2="114.9" y2="839.9" stroke="#222" stroke-width="1"/>
<line x1="112.2" y1="837.2" x2="112.2" y2="842.6" stroke="#222" stroke-width="1"/>
<line x1="144.8" y1="839.9" x2="150.2" y2="839.9" stroke="#222" stroke-width="1"/>
<line x1="147.5" y1="837.2" x2="147.5" y2="842.6" stroke="#222" stroke-width="1"/>
<line x1="179.3" y1="839.9" x2="184.7" y2="839.9" stroke="#222" stroke-width="1"/>
<rect x="268.4" y="714.4" width="19.7" height="76.8" fill="#c6dcf6"/>
<circle cx="270.3" cy="715.3" r="1.9" fill="#fff" stroke="#111" stroke-width="1"/>
<circle cx="278" cy="715.3" r="1.9" fill="#fff" stroke="#111" stroke-width="1"/>
<circle cx="285.7" cy="715.3" r="1.9" fill="#fff" stroke="#111" stroke-width="1"/>
<line x1="303.25" y1="714.4" x2="303.25" y2="710.5" stroke="#93bef5" stroke-width="1"/>
<line x1="298.75" y1="710.5" x2="307.75" y2="710.5" stroke="#93bef5" stroke-width="1"/>
<rect x="293.5" y="714.4" width="19.5" height="76.8" fill="#93bef5"/>
<circle cx="299.4" cy="711.2" r="1.9" fill="#fff" stroke="#111" stroke-width="1"/>
<circle cx="307.5" cy="712.9" r="1.9" fill="#fff" stroke="#111" stroke-width="1"/>
<circle cx="303.4" cy="719.3" r="1.9" fill="#fff" stroke="#111" stroke-width="1"/>
<line x1="328.8" y1="703.9" x2="328.8" y2="696.5" stroke="#5a9cf0" stroke-width="1"/>
<line x1="324.3" y1="696.5" x2="333.3" y2="696.5" stroke="#5a9cf0" stroke-width="1"/>
<rect x="319.2" y="703.9" width="19.2" height="87.3" fill="#5a9cf0"/>
<circle cx="328.6" cy="695.4" r="1.9" fill="#fff" stroke="#111" stroke-width="1"/>
<circle cx="324.6" cy="708.3" r="1.9" fill="#fff" stroke="#111" stroke-width="1"/>
<circle cx="332.7" cy="707.4" r="1.9" fill="#fff" stroke="#111" stroke-width="1"/>
<line x1="354.15" y1="683.4" x2="354.15" y2="671.3" stroke="#2a7de0" stroke-width="1"/>
<line x1="349.65" y1="671.3" x2="358.65" y2="671.3" stroke="#2a7de0" stroke-width="1"/>
<rect x="344.3" y="683.4" width="19.7" height="107.8" fill="#2a7de0"/>
<circle cx="354.2" cy="671.7" r="1.9" fill="#fff" stroke="#111" stroke-width="1"/>
<circle cx="354.2" cy="683.4" r="1.9" fill="#fff" stroke="#111" stroke-width="1"/>
<circle cx="354.2" cy="695.2" r="1.9" fill="#fff" stroke="#111" stroke-width="1"/>
<text x="354.6" y="667.6" font-size="7.6" text-anchor="middle" fill="#111">**</text>
<rect x="264" y="653.8" width="104.4" height="137.4" fill="none" stroke="#222" stroke-width="1"/>
<line x1="260.5" y1="791.2" x2="264" y2="791.2" stroke="#222" stroke-width="0.9"/>
<text x="260.2" y="794.4" font-size="8.8" text-anchor="end" fill="#111">0</text>
<line x1="260.5" y1="745.4" x2="264" y2="745.4" stroke="#222" stroke-width="0.9"/>
<text x="260.2" y="748.6" font-size="8.8" text-anchor="end" fill="#111">0.6</text>
<line x1="260.5" y1="699.6" x2="264" y2="699.6" stroke="#222" stroke-width="0.9"/>
<text x="260.2" y="702.8" font-size="8.8" text-anchor="end" fill="#111">1.2</text>
<line x1="260.5" y1="653.8" x2="264" y2="653.8" stroke="#222" stroke-width="0.9"/>
<text x="260.2" y="657" font-size="8.8" text-anchor="end" fill="#111">1.8</text>
<text x="278.4" y="802.4" font-size="8.6" text-anchor="middle" fill="#111">0</text>
<text x="304" y="802.4" font-size="8.6" text-anchor="middle" fill="#111">0.002</text>
<text x="328.9" y="802.4" font-size="8.6" text-anchor="middle" fill="#111">0.02</text>
<text x="354.3" y="802.4" font-size="8.6" text-anchor="middle" fill="#111">0.2</text>
<text x="314.9" y="813.6" font-size="8.1" text-anchor="middle" fill="#111">Concentration of arabinose (%)</text>
<text transform="translate(242.3,722.7) rotate(-90)" text-anchor="middle" font-size="10.2" fill="#111">WGA staining</text>
</svg></body></html>
